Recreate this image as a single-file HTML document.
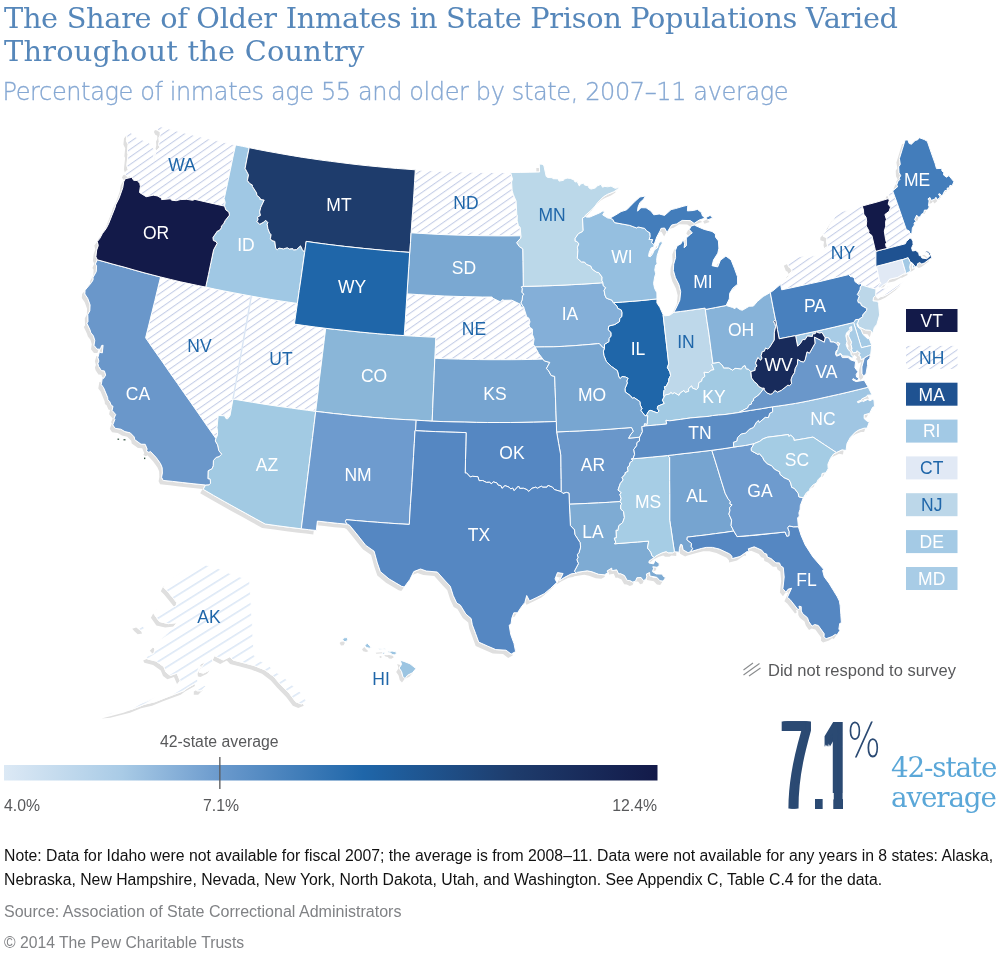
<!DOCTYPE html>
<html lang="en"><head><meta charset="utf-8"><title>The Share of Older Inmates in State Prison Populations</title>
<style>
html,body{margin:0;padding:0;background:#fff}
body{width:1000px;height:953px;position:relative;overflow:hidden;font-family:"Liberation Sans",sans-serif}
#map{position:absolute;left:0;top:0}
h1{position:absolute;left:4px;top:2.4px;margin:0;font-family:"DejaVu Serif","Liberation Serif",serif;font-weight:normal;font-size:28.8px;line-height:33px;color:#5687ba;letter-spacing:-0.32px;white-space:nowrap}
h2{position:absolute;left:2.5px;top:77px;-webkit-text-stroke:0.3px #86a8d3;margin:0;font-family:"DejaVu Sans","Liberation Sans",sans-serif;font-weight:200;font-size:24px;line-height:30px;color:#86a8d3;letter-spacing:-0.38px;white-space:nowrap}
.note{position:absolute;left:4px;top:844.2px;font-size:15.77px;line-height:23.5px;color:#111;white-space:nowrap}
.src{position:absolute;left:4px;top:902px;font-size:16.04px;color:#808285;white-space:nowrap}
.cp{position:absolute;left:4px;top:934px;font-size:15.73px;color:#808285;white-space:nowrap}
.big{position:absolute;left:0;top:0;font-size:125.8px;line-height:125.8px;color:#2b4a73;transform:scaleX(0.42);transform-origin:0 0;white-space:nowrap;text-shadow:3.1px 0 0 #2b4a73,6.2px 0 0 #2b4a73,9.4px 0 0 #2b4a73,12.5px 0 0 #2b4a73}
.big span{position:absolute;top:703px}
.pct{position:absolute;left:847px;top:716px;font-family:"DejaVu Sans","Liberation Sans",sans-serif;font-weight:200;font-size:48px;line-height:48px;color:#2b4a73;transform:scaleX(0.74);transform-origin:0 0}
.avg{position:absolute;left:891px;top:753px;font-family:"DejaVu Serif","Liberation Serif",serif;font-size:27.8px;line-height:30px;color:#5aa7d8;letter-spacing:-1.15px;white-space:nowrap}
</style></head><body>
<svg id="map" width="1000" height="953" viewBox="0 0 1000 953">
<defs>
<pattern id="hatch" width="20" height="6.14" patternUnits="userSpaceOnUse" patternTransform="rotate(-35)"><rect width="20" height="6.14" fill="#fff"/><rect y="0" width="20" height="1.05" fill="#c5cee7"/></pattern>
<pattern id="hatchAK" width="20" height="9.2" patternUnits="userSpaceOnUse" patternTransform="rotate(-32)"><rect width="20" height="9.2" fill="#fff"/><rect y="0" width="20" height="1.6" fill="#dde8f6"/></pattern>
<filter id="sh" x="-5%" y="-5%" width="110%" height="110%"><feGaussianBlur stdDeviation="0.55"/></filter>
<linearGradient id="grad" x1="0" x2="1" y1="0" y2="0"><stop offset="0" stop-color="#dce9f5"/><stop offset="0.18" stop-color="#a9cbe6"/><stop offset="0.33" stop-color="#6b9acd"/><stop offset="0.55" stop-color="#1f66a9"/><stop offset="0.78" stop-color="#1e3c6c"/><stop offset="1" stop-color="#131a49"/></linearGradient>
</defs>
<path d="M418.2,294.6 426.8,295.1 435.5,295.5 444.2,296 453.7,296.3 463.3,296.6 472.9,296.8 482.5,297 492.1,297 492.6,298.1 500.5,301.9 502.3,299.8 504.5,300.3 511.8,300.2 519.9,304 521,307 523.8,307.5 526.7,316.8 528.9,318.2 530,321.8 529.1,324.4 529.6,327.2 532.4,329 532.4,334.3 534.1,338.9 533.3,344.3 535.2,347 538.8,353.7 542.9,359.1 532.3,359.4 521.8,359.6 511.2,359.7 500.6,359.7 490,359.7 479.5,359.6 468.9,359.4 458.3,359.1 447.7,358.8 437.2,358.4 434.8,358.3 435.3,347.8 435.8,337.3 425.2,336.8 414.7,336.2 404.2,335.6 405.2,321.7 406.1,307.8 407,293.9 412.6,294.2ZM205.7,287.1 214.8,289.1 223.9,290.9 233.1,292.7 242.2,294.4 251.3,296.1 249,309 246.7,321.8 244.4,334.7 242.2,347.6 239.9,360.4 237.6,373.3 235.3,386.2 233,399 231.5,407.3 230,415.6 227.7,418.8 226,418.6 224.5,415.8 218.2,415.5 217,427.7 217.6,431.9 217.3,435.8 215.8,438.4 207.4,426.5 199.2,414.6 190,401.4 183.6,392.4 177.4,383.4 169.5,372.2 161.8,361 153.6,349.4 145.6,337.8 148.8,325 152,312.1 154.9,300.4 157.7,288.7 160.6,277 170.4,279.4 180.3,281.8 188.8,283.6 197.3,285.4ZM892.7,190.9 897.3,203.5 901.8,216.5 906.3,229.5 909.3,231 909.6,233.1 911.8,234 911.3,238.2 909.7,238.3 906.4,241.5 905.3,243.8 896.7,246 888,248.2 886.2,247 885.6,244 886.5,242.5 885.6,239.7 884.3,231 885.7,226.3 885.6,221.4 886.4,219.4 884.9,214.5 889.2,211.2 890.5,207.1 888.2,204.2 889.2,200.4 888.5,198.5 889,192.7 892.4,192.3ZM862.2,206 863.5,210.1 863.7,214.1 866.1,217.3 866.7,221.3 866.2,225.8 869,231 868.6,232.9 871.9,235.5 875.2,249.5 875.9,251.3 875.9,265.5 876.5,266.2 878.1,273.9 879.7,281.7 881.2,283 878,286.3 879.8,288.3 886.7,288.2 887.7,286.6 893.3,285 895.9,283.6 899.7,279 900.7,281.2 903.4,281.5 898.7,286.1 893.4,290 888.1,293.8 883.4,296.1 880.1,296.8 877.9,298.4 875.7,295.5 875.9,289.1 870.1,287.6 861.9,285 860.9,283.7 858.5,284.2 854.9,281.5 854.5,278.4 852,276.5 850.9,276.9 848.6,274.6 839,276.9 829.5,279.2 820,281.5 810.5,283.6 800.9,285.7 791.3,287.8 781.7,289.8 780.7,284.6 780.6,284.3 788.7,276.5 789.6,273.4 792.2,270.9 790.3,267.7 788.9,267.2 786.8,261.8 795.1,257.6 802.9,256 806.1,255.9 809.9,257.4 811.9,256 818.3,254.6 821.9,252.3 825.2,247.6 827.8,246.8 826.5,241.3 827.1,237.7 823.3,236.3 823.4,233.6 828.4,228.7 829.8,225.2 835.1,216.7 840.8,211.6 850.7,209.6 856.4,207.8ZM510.6,172.5 512.5,179 511.6,181.9 512.1,190.2 513.2,194.2 516.1,201.1 516.8,214.4 517.3,215.3 517.2,220.8 518.4,225.4 520.2,227.5 520.9,235.8 510.9,235.9 500.9,235.9 490.9,235.8 481,235.7 471,235.5 461,235.2 451,234.9 441,234.5 431.1,234 421.1,233.4 411.1,232.8 412,219.5 413,206.3 413.9,193.2 414.6,181.5 415.3,169.8 424.8,170.4 434.4,170.9 443.9,171.3 453.4,171.7 462.9,172 472.4,172.3 482,172.4 491.5,172.5 501,172.6ZM280.2,300.9 288.8,302.2 297.4,303.4 295.9,313.8 294.4,324.1 304.8,325.6 315.3,327 325.7,328.3 324.1,341.3 322.5,354.2 320.9,367.2 319.8,376 318.6,384.8 318.6,387.1 317.2,399.3 315.7,411.4 307.6,410.3 299.6,409.3 291.6,408.1 281.8,406.8 272,405.4 262.2,403.9 252.5,402.3 242.7,400.7 233,399 235.3,386.2 237.6,373.3 239.9,360.4 242.2,347.6 244.4,334.7 246.7,321.8 249,309 251.3,296.1 260.9,297.8 270.5,299.4ZM235.7,144.9 233,157.4 230.3,169.9 227.5,183.4 224.6,196.9 224.1,198.5 225.2,202.5 224.5,206.1 214.6,203.9 204.8,201.7 194.9,199.4 192.7,200.3 186.8,199.3 180.2,199.6 176.2,200.7 171.8,200.2 170.2,198.8 161.6,199.6 161.5,198.2 157.3,195.9 153.3,195.2 146.2,196.7 139.5,192.5 140.4,186.3 139.8,183.5 137.4,180.6 136,180.4 133.6,180.3 131.8,177.3 129.5,175.8 127.1,176.4 124.9,173.9 126.2,171.3 128.5,170.5 126.9,165.5 128.1,154.2 127.4,152.4 128.2,144.4 126.4,140.7 127,134.5 129.7,131 131.8,133.7 136.7,137.8 140.5,138.8 144,140.9 147.9,140.9 149.1,143.2 152.4,143.9 153.4,148.9 155.2,149.1 153.8,155 153.4,160.6 154.9,160.5 154.8,155.5 156.4,151.1 159.9,147.2 158.6,144.8 159.3,141.5 159,137.6 160.3,135.1 160.3,131.9 158.3,130.8 156.9,128 158,126 166.6,128.3 175.2,130.6 183.8,132.8 192.4,135 201,137.1 209.7,139.2 218.3,141.1 227,143.1ZM166,583 172.6,578.6 183.6,570.9 203.4,564.3 218.8,568.7 234.2,575.3 249.6,579.7 251.8,616 254,655.6 260.6,661.1 267.2,664.4 276,672.1 287,679.8 293.6,686.4 301.3,693 306.8,701.8 301.3,704 295.8,701.8 289.2,693 280.4,684.2 273.8,676.5 265,669.9 254,665.5 243,662.6 233.1,660 229.8,656.7 223.2,660 214.4,655.6 212.2,660 214.4,664.4 210,669.9 203.4,673.2 199,672.1 202.3,666.6 205.6,661.1 200.1,664.4 196.8,673.2 197.9,682 188,687.5 183.6,690.8 174.8,694.1 166,697.4 155,701.8 144,704.4 133,708.8 122,711.7 113.2,713.9 104.4,714.6 113.2,712.4 126.4,708.8 139.6,704 150.6,699.6 163.8,694.1 174.8,687.5 180.3,680.9 177,673.2 170.4,675.4 166,672.1 163.8,666.6 156.1,661.1 147.3,658.9 146.2,656.7 153.9,653.4 155,649 152.8,646.8 158.3,641.3 166,634.7 173.7,627 177,622.6 168.2,623.7 159.4,621.5 153.9,613.8 156.1,609.8 166,609.4 175.9,606.1 177,602.8 172.6,597.3 167.1,590.7 163.8,587.4ZM135.2,624.8 139.2,623.7 144,627.4 145.1,629.6 140.7,630.3 137.4,627.4ZM196.8,687.5 203.4,684.2 205.6,686.4 201.2,690.8 196.8,690.8ZM682,453.8 691.9,452.7 701.9,451.5 711.8,450.3 714.6,459 717.3,467.7 721.2,480.5 725.2,493.3 728,498.7 730.4,501.7 729.9,503.9 732.1,504.8 729.5,507.8 730,510.4 728.9,514.1 731.6,520.1 731.1,525.7 733.8,531 725,532.4 715.6,533.6 706.2,534.9 696.7,536 687.3,537.1 687,539.9 691.5,543.4 691.2,546.8 692.8,548.4 690.5,551.7 688.1,552.7 683.1,549.8 682.1,544.8 680.6,544.4 679.4,548.4 679.2,552.2 674.4,551.7 672.8,541.2 671.3,530.7 669.7,520.3 669.7,507 669.7,493.7 669.6,480.5 669.6,469 669.6,457.5 667.6,455.5 674.8,454.7ZM315.7,411.4 314.1,424.5 312.5,437.5 310.9,450.6 309.3,463.7 307.7,476.7 306.1,489.8 304.5,502.8 302.9,515.8 301.3,528.8 289.3,527.3 277.2,525.7 265.2,524 255.3,518.6 245.5,513.2 234.8,507.3 224.2,501.4 213.6,495.4 203.2,489.3 205.6,485 209.2,484.8 210.5,483.2 210.2,479.2 207.9,478.7 208.1,470.8 212.2,468.5 213.2,465.6 213.4,460.6 216.1,457.4 219.1,456.6 221.6,454.2 218.8,450.7 217.5,444.9 215.3,441 215.8,438.4 217.3,435.8 217.6,431.9 217,427.7 218.2,415.5 224.5,415.8 226,418.6 227.7,418.8 230,415.6 231.5,407.3 233,399 242.7,400.7 252.5,402.3 262.2,403.9 272,405.4 281.8,406.8 291.6,408.1 299.6,409.3 307.6,410.3ZM559,431.8 569.4,431.4 579.8,430.9 590.1,430.4 600.5,429.8 610.9,429.1 621.2,428.3 631.6,427.5 633.4,431.3 631,434.1 628.7,438.2 639.6,437.2 639.4,441.1 637,442.5 636.7,445.7 633.8,449.4 634.6,454.4 633.2,458.2 631.6,458.9 632.7,460.7 630.1,462.5 629.2,466.1 627.5,467.2 628.1,471.3 625.1,472.7 625.3,474 622,477.7 623.2,479.9 620.3,483.5 618,490.1 621.3,492.6 619.9,494.4 621.2,498.6 620,501.6 609.3,502.3 598.5,502.9 587.8,503.4 577,503.9 569.4,504.2 569,493.2 566.4,492.4 563,493.5 561.1,491.6 561,479.4 560.8,467.2 560.7,454.9 558.6,443.4 556.6,431.9ZM112,263.9 118.4,265.6 124.9,267.3 134.9,270.2 145,273 152.8,275 160.6,277 157.7,288.7 154.9,300.4 152,312.1 148.8,325 145.6,337.8 153.6,349.4 161.8,361 169.5,372.2 177.4,383.4 183.6,392.4 190,401.4 199.2,414.6 207.4,426.5 215.8,438.4 215.3,441 217.5,444.9 218.8,450.7 221.6,454.2 219.1,456.6 216.1,457.4 213.4,460.6 213.2,465.6 212.2,468.5 208.1,470.8 207.9,478.7 210.2,479.2 210.5,483.2 209.2,484.8 205.6,485 193.9,483.8 182.2,482.5 172.7,481.4 163.1,480.4 161.6,477.3 162.4,473 162.2,467.7 160.5,463.6 156.2,457.5 150.4,451.4 148.9,452.4 146.4,451 147.2,449.1 145.2,444.3 141,444.2 134.7,439.6 134.2,436.9 130.2,432.8 124.9,431.6 120.8,429.2 115.1,428.3 112.8,424.9 114.9,419.4 114.1,418.3 115.7,414.5 112.1,410.4 113,406.2 111.4,405.6 109.6,401.3 107.9,400.1 107.7,397.6 103.6,387.7 101.3,384.5 102.4,377.8 103.5,378.6 105.7,375.1 104.4,370.9 101.4,370.6 98.6,366.4 97.9,363.5 98.9,361.1 97.9,357.4 99.4,352.1 102.3,352.9 103.1,345.2 101.6,345.6 100.4,349.2 97,349.1 94,345.3 94.8,340.4 93.4,335.9 90.9,332.7 89.9,329.6 86.8,323.1 88,321.7 87.8,314.4 89.8,310.9 90.1,304.9 87.7,298.3 84.8,294 85.1,290.2 91.5,282.5 93.1,279.8 93.1,277.3 96.3,271.6 96.6,265.8 95.4,264 97.3,259.8 104.7,261.8ZM343.4,330.2 352,331.2 360.6,332.1 369.2,332.9 377.8,333.7 386.6,334.4 395.4,335 404.2,335.6 414.7,336.2 425.2,336.8 435.8,337.3 435.3,347.8 434.8,358.3 434.3,370.8 433.8,383.4 433.2,396 432.7,408.6 432.2,421.2 424.2,420.7 416.2,420.2 405.1,419.6 393.9,419 383.4,418.2 372.8,417.4 362.3,416.4 351.8,415.5 342.6,414.4 333.6,413.5 324.7,412.4 315.7,411.4 317.2,399.3 318.6,387.1 318.6,384.8 319.8,376 320.9,367.2 322.5,354.2 324.1,341.3 325.7,328.3 334.5,329.3ZM883,264.6 892.4,262.1 901.9,259.5 902,259.9 905.5,271.7 905.1,273.9 903.7,273.9 897.5,277.4 889.5,279.2 886.9,282.9 883.5,284.8 879.8,288.3 878,286.3 881.2,283 879.7,281.7 878.1,273.9 876.5,266.2ZM858.9,319.3 858.1,322.2 856.8,323.9 858,327 861,329.5 862.9,334.3 867.6,338.7 869.2,338.5 871.7,345.3 861.4,347.7 857.5,335.1 853.6,322.5 855.6,319.6ZM725,532.4 733.8,531 737.1,536.6 746.3,536 755.4,535.3 765.3,534.2 775.2,533.1 785.1,532 786.8,536.2 788.9,535.7 789,531.4 787.6,527.8 789,525.9 793.4,526.8 798.4,526.7 801.1,535.4 805.2,544.9 812.9,556.9 823.6,569.3 822.6,570.5 824.3,576.9 829.1,583.4 833.2,590.1 837.3,596.8 839.4,601.1 840.2,605.8 840.8,614.3 841.4,622.8 839.7,623.5 838.9,629 839.8,630.6 836.9,635 835.3,634.4 832,636.6 826.1,638.7 824,636.9 824.2,633.7 818.3,625.5 814.7,624.5 812,626.2 808.8,621.6 807.5,617.7 802.8,613.8 801.3,611 801.2,606.6 798.9,606.2 799.8,608.6 798,609.6 790.2,599.7 787.4,597.3 791.6,588.2 788,589.3 786,592.3 782.9,588.7 784.2,577 783.3,567.6 780.7,565.8 779.5,562.9 775.9,562.8 771,558.5 767.4,557.1 766.7,554.1 764.2,553.3 761.8,550.2 754.2,546.8 748.3,548.8 749.1,551.9 747,551.6 740,556.5 732.1,558.6 731.9,556.3 729.7,553.9 719.4,549.1 712.4,547.4 706.2,547.4 701.2,548.5 690.5,551.7 692.8,548.4 691.2,546.8 691.5,543.4 687,539.9 687.3,537.1 696.7,536 706.2,534.9 715.6,533.6ZM754.2,443.6 751.3,448.6 751.4,450.8 757.8,454.3 759.5,453.7 762.9,457.7 763.8,460 767.3,463.8 771.7,465.7 774.6,469.2 779.8,471.9 780,474.3 783.8,477.5 789,479.8 790.7,483 791.7,487.3 794.4,488.4 798.2,493.3 798.9,496.8 803.3,497.8 800.3,505.6 800.1,509.3 798.9,512.8 799.3,516.1 797.6,517.9 798.4,526.7 793.4,526.8 789,525.9 787.6,527.8 789,531.4 788.9,535.7 786.8,536.2 785.1,532 773.5,533.2 761.9,534.3 749.5,535.5 737.1,536.6 733.8,531 731.1,525.7 731.6,520.1 728.9,514.1 730,510.4 729.5,507.8 732.1,504.8 729.9,503.9 730.4,501.7 728,498.7 725.2,493.3 721.2,480.5 717.3,467.7 714.6,459 711.8,450.3 722.8,448.8 733.7,447.1 739.7,446.2 745.6,445.4ZM249.2,147.7 247.1,158 245.1,168.4 248.5,174.9 247.4,180.5 249.7,183.5 252.3,184.9 252.4,186.4 256.6,192.9 256.8,195.2 260.2,198 260.1,199.4 264.2,200.1 260.8,207.3 259.6,212 260.5,215.4 257.5,217.2 258.1,219.5 257,221.6 259.7,224.3 263.8,222.1 265.6,220.2 267.9,222.6 267.2,224.2 267.9,228.4 269.6,233 271.1,234.7 270.4,238.7 271.8,240.6 274.8,241.4 275.7,248.3 277.2,249.7 279,248.1 283.6,248.9 287.3,247.7 289.2,249 292.8,248.6 293.4,249.9 296.5,249.6 300.5,245.8 302.4,249.7 304.7,252.3 302.9,265 301.1,277.8 299.2,290.6 297.4,303.4 288.8,302.2 280.2,300.9 270.5,299.4 260.9,297.8 251.3,296.1 242.2,294.4 233.1,292.7 223.9,290.9 214.8,289.1 205.7,287.1 208.4,274.7 211,262.2 213.6,249.8 217,243.5 216.1,241.6 213.4,240.6 212.9,237.6 217.4,231 219.1,230.6 221.3,227.9 221.4,226 223.6,223.9 225.2,220.5 229.5,215.1 228.8,212.1 225.8,209.9 224.5,206.1 225.2,202.5 224.1,198.5 224.6,196.9 227.5,183.4 230.3,169.9 232.9,157.4 235.6,144.9 242.4,146.3ZM613.3,302.7 622.8,302 632.3,301.3 641.8,300.5 649.4,299.7 657,298.9 656.9,302.9 659.8,307.3 663.1,314.6 664.5,326.9 665.9,339.2 667.3,351.4 668.7,363.7 667.4,367.7 669.9,371.9 670.6,375.5 668.9,378.7 668.7,381.5 666.2,386.3 664.4,386.8 665.1,389.4 664,390.5 663.5,395.6 664.2,396.9 662.4,400.1 664.3,403.5 657.7,406.2 657.3,408.4 659.1,411 657.2,412.9 650.8,410.4 648.9,410.8 646.7,414.7 647.7,415.7 645,415.8 640.7,410.2 642,408.7 640.2,404.8 639.9,401.6 634.2,397.7 632.4,398.3 630.4,395.7 625.2,391.9 625,388.6 627.3,382.9 626.7,381 628.1,378.4 625.7,377.1 622,376.5 620.3,378.6 619,377.4 617.4,370.7 611.6,366.6 606.3,361.6 603.8,355.3 603.4,351.1 604.5,348.1 604.5,344.3 608.8,341.7 609,338.4 610.9,336.2 610.9,332.5 608.1,329.8 608.8,326 614.8,324.5 619.5,321.5 619.7,318.3 621.7,316.7 621.9,312.7 621.3,310.1 617.6,308.3 617,306.2ZM686.8,310.7 696,309.4 705.1,308.1 705.3,309.5 707.1,321.9 709,334.2 710.9,348.7 712.9,363.2 711.8,364.3 713.9,369.7 711.1,370.3 708.4,372.6 704.1,372.3 704.9,376.4 702.3,378.4 701.6,381.2 698.9,382.6 698.1,388 696.4,389.6 692.5,388.2 691.5,385.9 688.3,389 688.8,391.2 685.3,392.5 683.9,390.5 680.1,393.1 679,395.4 674.5,392.8 672.4,393.8 670.8,392.4 669.6,394.1 665.5,394.8 664.2,396.9 663.5,395.6 664,390.5 665.1,389.4 664.4,386.8 666.2,386.3 668.7,381.5 668.9,378.7 670.6,375.5 669.9,371.9 667.4,367.7 668.7,363.7 667.3,351.4 665.9,339.2 664.5,326.9 663.1,314.6 664.8,315.8 669.6,315.3 673.9,312.3 680.3,311.5ZM600.6,282.9 602.9,282.7 603.3,285.8 605.7,287.7 604.1,290.3 604.9,295 606.4,298.2 612,300.2 613.3,302.7 617,306.2 617.6,308.3 621.3,310.1 621.9,312.7 621.7,316.7 619.7,318.3 619.5,321.5 614.8,324.5 608.8,326 608.1,329.8 610.9,332.5 610.9,336.2 609,338.4 608.8,341.7 604.5,344.3 604.5,348.1 602.8,347.5 599.2,343.5 597.6,343.7 590.1,344.4 582.6,345 575.1,345.6 564.2,346.3 553.2,346.8 544.2,346.9 535.2,347 533.3,344.3 534.1,338.9 532.4,334.3 532.4,329 529.6,327.2 529.1,324.4 530,321.8 528.9,318.2 526.7,316.8 523.8,307.5 520.8,303 522.1,299.9 522.6,295.7 523.7,294.2 521.8,292.2 522.2,288.5 521.3,286.8 523.3,286.4 533,286.2 542.7,285.9 552.3,285.6 562,285.2 571.7,284.7 581.3,284.2 591,283.6ZM437.2,358.4 447.7,358.8 458.3,359.1 468.9,359.4 479.5,359.6 490,359.7 500.6,359.7 511.2,359.7 521.8,359.6 532.3,359.4 542.9,359.1 544.5,361 549.8,362.4 546.4,368.6 548.5,370.6 551.2,375.5 554.7,376.4 555.1,387.7 555.5,398.9 555.9,410.2 556.3,421.5 544.8,421.9 533.4,422.2 522,422.4 510.6,422.5 499.1,422.5 487.7,422.5 476.3,422.4 464.9,422.1 454,421.9 443.1,421.6 432.2,421.2 432.7,408.6 433.2,396 433.8,383.4 434.3,370.8 434.8,358.3ZM728.7,367.9 732.7,370.2 735,368.3 741.4,368.9 742.8,366.6 745,365.5 746.3,368.9 748.2,369.1 750.9,371.6 751.5,377.9 754.2,381.5 757.3,384.1 758.5,386.3 762,388.2 764.2,388.1 758.9,394.8 753.4,398.8 753.7,400.4 751.5,402.2 751.6,404 748.6,405.3 747.8,407.8 739.4,412.2 739.2,412.5 732.1,413.5 725,414.5 718.7,415 712.5,415.6 709.3,416.3 700,417.1 690.7,417.9 680.3,419.4 669.8,420.8 666,420.3 666.7,424 656.3,425 645.9,425.9 643.9,426.3 644.6,423.6 647.1,424.3 647.7,415.7 646.7,414.7 648.9,410.8 650.8,410.4 657.2,412.9 659.1,411 657.3,408.4 657.7,406.2 664.3,403.5 662.4,400.1 664.2,396.9 665.5,394.8 669.6,394.1 670.8,392.4 672.4,393.8 674.5,392.8 679,395.4 680.1,393.1 683.9,390.5 685.3,392.5 688.8,391.2 688.3,389 691.5,385.9 692.5,388.2 696.4,389.6 698.1,388 698.9,382.6 701.6,381.2 702.3,378.4 704.9,376.4 704.1,372.3 708.4,372.6 711.1,370.3 713.9,369.7 711.8,364.3 712.9,363.2 719.1,362.3 723,366.1 723.5,367.9ZM577,503.9 587.8,503.4 598.5,502.9 609.3,502.3 620,501.6 621.8,503.9 620.7,504.9 620.8,509.1 623.6,511.5 624.4,517.6 622.7,522.5 618.7,525.8 618,530.5 616.2,530.2 616.4,537.8 614.3,538.2 615.8,542.2 614.6,543.8 626,542.9 637.3,542 648.7,541.1 647.5,548 650.9,552.3 651.9,555.6 654.3,557.5 649.2,560.9 648.9,562.9 653.5,563.9 655.1,560.4 659.2,563.4 659.1,566 657,567.3 652.8,566.7 653.5,568.6 652.4,571.6 656.1,573.9 661.8,574.1 664.1,577 665.8,577.3 663.2,581.1 659.9,580.7 656.8,577.3 649.9,576 649.6,572.5 646.4,574 646.8,576.9 645.6,579.7 643.2,580.4 641.1,577.5 636.9,577.7 635.6,581 632.8,582.1 629.7,580.5 627.2,580.4 624.5,575.5 620.2,573.5 618.7,574 616.7,569.8 612,570.7 611.7,568.1 607.1,570.9 607.9,572.8 604.4,574.8 598.7,574.3 592,571.8 587.3,570.8 577.4,572.3 576.1,573.2 574.4,571.2 578.4,563.6 576.8,559.7 578,557.5 577.3,554.7 579,552.5 580.6,547 580.1,542.6 574.8,534.4 574.5,529.9 570.4,525.5 569.9,514.9 569.4,504.2ZM911.8,234 909.6,233.1 909.3,231 906.3,229.5 901.8,216.5 897.3,203.5 892.7,190.9 898,186.3 896.6,185.2 898,181.4 899.9,179.3 899.1,178.2 900.7,175.7 899,172.4 898.7,166.8 900.3,164.4 899.4,158.6 902.3,149.3 905.1,140.1 907.8,139.9 909.2,143.5 911.4,144.2 915.1,140.6 917.8,139.7 919.3,137.7 924.2,139.5 927.3,141.3 931.1,152.3 935,163.3 936.5,168.6 941.8,168.4 941.9,170.9 943.8,172.6 943.5,174.9 946.5,177.2 948.9,175.6 953.9,181.7 952.1,185.9 950,185.3 949.3,187.9 947.1,188.1 947.5,190 944.8,190.7 942,196.3 940,193.8 938.5,194.1 940.3,197 937.5,199.6 935.9,197.3 934.7,199.2 931.1,200.4 930,197.5 928,198.9 929.1,200.8 928.5,205.8 929.3,206.9 927.4,210.1 924.4,210.1 923.7,213.1 921.5,214.2 920.4,216.8 918,217.1 916.7,215.1 914.6,219.6 916.1,221.5 914,223 914.4,224.9 912.4,228.1ZM795.6,335.6 805.3,333.5 815,331.5 824.7,329.3 834.3,327.1 843.9,324.8 853.6,322.5 857.5,335.1 861.4,347.7 871.7,345.3 870.7,354.7 868.4,355.6 864.3,358 861.1,359.7 860.4,356.3 858.7,355.3 860.2,353.4 856.9,350.7 856.5,352.3 853.1,352.8 851.1,349.4 852.1,349.1 851,344.3 851.6,342.2 848.7,336.1 849.5,331.8 852,330.5 851.5,326.5 849.6,327.5 850,329.5 846.5,333 845.8,335.7 847,341.6 846.1,344.8 847.9,349.3 850.8,352.1 851.1,354.6 853,356.7 852.7,358.6 848.3,356.2 842.7,355.9 840.3,353.1 837.8,355.6 836.1,353.4 837.7,349.7 838.4,346.2 839.9,343.6 837.5,342 836.5,343.5 833.9,342.1 830.4,341.9 829.7,338.9 827.6,337.6 825.1,337.8 822,332.5 819.4,333.1 816.3,331.8 815.2,333.7 812.5,334.1 812.4,336.5 807.4,336 805,339.7 802.8,339.5 800.4,343.6 797.6,346.2ZM909.7,238.3 911.3,238.2 912.9,241.5 913.1,244.6 911.6,247.9 912.5,251 915.8,250.4 918.8,253 919.2,255.6 921,255.8 921.9,258 926.7,258.7 929.8,256.1 928.2,253.1 925.6,252.2 925.5,251.1 927.7,251.1 930.2,253.6 931.8,257.9 930.7,258.4 924.4,263 921.8,264 919.6,262.6 917.3,263.9 917.7,265.3 915.2,267 912.9,263.8 912.3,263.2 910.3,262.3 908.1,257.8 905.9,258.5 902,259.9 901.9,259.5 892.4,262.1 883,264.6 876.5,266.2 875.9,265.5 875.9,251.3 881.9,249.7 888,248.2 896.7,246 905.3,243.8 906.4,241.5ZM586.5,217.1 585.3,216.3 582.5,218.2 583.2,230.4 582.4,231.7 578.4,233.7 575.2,238.3 575.2,241.2 576.9,241.4 578.9,243.9 577.4,247.2 577.9,250.7 577.3,258.3 581.4,261.9 584.5,262 586.2,264.2 591,266.2 591.9,268.9 596.4,272.1 598.9,272.7 602.1,277.1 601.9,280.4 602.9,282.7 600.6,282.9 591,283.6 581.3,284.2 571.7,284.7 562,285.2 552.3,285.6 542.7,285.9 533,286.2 523.3,286.4 523.1,273.9 522.9,261.4 522.7,248.9 519.3,246.6 516.6,242.7 520.6,238.2 520.9,235.8 520.2,227.5 518.4,225.4 517.2,220.8 517.3,215.3 516.8,214.4 516.1,201.1 513.2,194.2 512.1,190.2 511.6,181.9 512.5,179 510.6,172.5 520.2,172.4 529.9,172.2 539.6,172 539.3,164.1 542.1,164.2 543.9,165.7 546.2,176.4 547.7,177.5 552.3,177.7 552.9,178.7 558.3,178.9 559,181.1 563.6,180.3 563.5,179.4 567.1,178.1 570.3,178.4 574,179.9 575.1,182 577.2,181.6 579.4,186.1 580.2,184.2 583.7,183 584.4,184.9 588.7,186 588.8,187.8 591,189.1 595.2,188 597.6,185.8 601,184.3 602.5,187.2 604.8,186.4 607.7,186.8 611,186.1 615.1,188.3 618.7,187.6 618.4,188.7 613.9,191.7 607.5,194.3 603.4,196.8 597.6,202.6 595.2,206 591.4,210.1 585.2,215.5ZM663,456 667.6,455.5 669.6,457.5 669.6,469 669.6,480.5 669.7,493.7 669.7,507 669.7,520.3 671.3,530.7 672.8,541.2 674.4,551.7 672.5,552.8 668.1,552.8 666.2,551.6 661.9,552.9 656,555.9 654.3,557.5 651.9,555.6 650.9,552.3 647.5,548 648.7,541.1 637.3,542 626,542.9 614.6,543.8 615.8,542.2 614.3,538.2 616.4,537.8 616.2,530.2 618,530.5 618.7,525.8 622.7,522.5 624.4,517.6 623.6,511.5 620.8,509.1 620.7,504.9 621.8,503.9 620,501.6 621.2,498.6 619.9,494.4 621.3,492.6 618,490.1 620.3,483.5 623.2,479.9 622,477.7 625.3,474 625.1,472.7 628.1,471.3 627.5,467.2 629.2,466.1 630.1,462.5 632.7,460.7 631.6,458.9 642,458 652.5,457ZM597.6,343.7 599.2,343.5 602.8,347.5 604.5,348.1 603.4,351.1 603.8,355.3 606.3,361.6 611.6,366.6 617.4,370.7 619,377.4 620.3,378.6 622,376.5 625.7,377.1 628.1,378.4 626.7,381 627.3,382.9 625,388.6 625.2,391.9 630.4,395.7 632.4,398.3 634.2,397.7 639.9,401.6 640.2,404.8 642,408.7 640.7,410.2 645,415.8 647.7,415.7 647.1,424.3 644.6,423.6 643.9,426.3 642.8,426.5 641.9,426.5 642.4,431.7 639.6,437.2 628.7,438.2 631,434.1 633.4,431.3 631.6,427.5 621.2,428.3 610.9,429.1 600.5,429.8 590.1,430.4 579.8,430.9 569.4,431.4 559,431.8 556.6,431.9 556.3,421.5 555.9,410.2 555.5,398.9 555.1,387.7 554.7,376.4 551.2,375.5 548.5,370.6 546.4,368.6 549.8,362.4 544.5,361 542.9,359.1 538.8,353.7 535.2,347 544.2,346.9 553.2,346.8 564.2,346.3 575.1,345.6 582.6,345 590.1,344.4ZM415.3,169.8 414.6,181.5 413.9,193.2 413,206.3 412,219.5 411.1,232.8 410.5,242.6 409.9,252.4 409.7,252.4 400.5,251.7 391.3,251 382.1,250.2 372.8,249.3 363.4,248.4 354,247.4 344.6,246.4 335.3,245.3 325.6,244.1 315.9,242.8 306.2,241.4 304.7,252.3 302.4,249.7 300.5,245.8 296.5,249.6 293.4,249.9 292.8,248.6 289.2,249 287.3,247.7 283.6,248.9 279,248.1 277.2,249.7 275.7,248.3 274.8,241.4 271.8,240.6 270.4,238.7 271.1,234.7 269.6,233 267.9,228.4 267.2,224.2 267.9,222.6 265.6,220.2 263.8,222.1 259.7,224.3 257,221.6 258.1,219.5 257.5,217.2 260.5,215.4 259.6,212 260.8,207.3 264.2,200.1 260.1,199.4 260.2,198 256.8,195.2 256.6,192.9 252.4,186.4 252.3,184.9 249.7,183.5 247.4,180.5 248.5,174.9 245.1,168.4 247.1,158 249.2,147.7 258.1,149.5 267,151.2 275.9,152.8 284.9,154.4 293.8,155.9 302.8,157.4 311.8,158.7 321.2,160.1 330.7,161.3 340.1,162.5 349.5,163.7 358.9,164.8 368.3,165.8 377.7,166.7 387.1,167.6 396.5,168.4 405.9,169.1ZM870.1,287.6 875.9,289.1 875.7,295.5 873.5,297.5 873,300.9 877.6,301.3 878.6,303.6 879.6,314.9 876.9,324.3 874.3,327.5 872.8,333.3 870.5,330.4 865.5,329.9 858.8,326.8 857.7,323.9 857.5,323.5 858.1,322.2 858.9,319.3 862.7,316.6 862.6,315 866.5,310.5 866.8,308.5 861.3,305.5 860.5,303 858.4,302.8 857.6,300.5 859.1,296.4 857.3,294.6 860,289.4 860.3,287 861.9,285ZM342.6,414.4 351.8,415.5 362.3,416.4 372.8,417.4 383.4,418.2 393.9,419 405.1,419.6 416.2,420.2 415.6,430.7 415,430.6 414.3,443.6 413.5,456.6 412.8,469.5 412,482.5 411.3,493 410.5,503.6 409.9,514 409.3,524.4 398.8,523.8 388.2,523.1 377.7,522.3 367.2,521.5 356.7,520.6 346.2,519.7 345.5,521.7 347.3,524.2 337.3,523.3 327.3,522.2 317.4,521.1 316.3,530.5 308.8,529.7 301.3,528.8 302.9,515.8 304.5,502.8 306.1,489.8 307.7,476.7 309.3,463.7 310.9,450.6 312.5,437.5 314.1,424.5 315.7,411.4 324.7,412.4 333.6,413.5ZM784.2,405.2 795.5,403.4 802,402.2 808.5,400.9 818.5,398.8 828.4,396.6 838.4,394.4 848.3,392.1 858.2,389.7 868.2,387.2 872,394.9 867.3,395.2 866.9,396.4 861.6,399 861.1,400.3 857.4,401.5 858,402.9 862.2,400.8 863.1,401.6 867.8,399.4 869.9,400.8 872.7,399.3 874,400.1 874.5,406.5 872.6,407.3 869.7,413.3 864.2,414.8 864.1,418.5 867.3,421.4 869.4,421.6 867.1,428.1 864,428.2 858.8,430 855.4,432.1 850.4,437.3 847,443.5 846,450.5 842.1,449.8 836.3,452.5 824.6,444.8 813,437.1 803.5,438.8 794,440.4 793.8,438 790.5,435 789,436.6 788.5,434.5 778.1,435.9 767.6,437.2 763.1,438.8 759.8,441.3 754.2,443.6 745.6,445.4 739.7,446.2 733.7,447.1 733.4,442.2 736.7,441.2 737.5,437.6 741.2,433.9 745.7,433.1 749.4,429.2 753.5,427.4 756.4,422.2 758.5,420.4 759.3,422.4 765.2,417.3 768.3,417.6 769.7,413.3 772.6,411.8 772.5,406.8 778.3,406ZM770.3,292.5 772.9,306.3 775.6,320 773.5,321.6 775,323.6 775.6,326.8 774.4,332.2 774.3,340 769.4,347.8 767.6,349.1 765.6,348 764.3,351.3 762.4,351.5 761.1,355.8 762,358.1 760.7,360.3 757.8,357.6 755.6,363.1 757,366.1 755.2,367.6 755.1,370.4 750.9,371.6 748.2,369.1 746.3,368.9 745,365.5 742.8,366.6 741.4,368.9 735,368.3 732.7,370.2 728.7,367.9 723.5,367.9 723,366.1 719.1,362.3 712.9,363.2 710.9,348.7 709,334.2 707.1,321.9 705.3,309.5 715.7,307.5 726.1,305.5 732.5,307.4 734.9,308.7 736.1,306.9 740,309.6 742.3,310.3 749.1,306.3 753.4,306.1 757.3,301.5 763.2,296.5ZM464.9,422.1 476.3,422.4 487.7,422.5 499.1,422.5 510.6,422.5 522,422.4 533.4,422.2 544.8,421.9 556.3,421.5 556.6,431.9 558.6,443.4 560.7,454.9 560.8,467.2 561,479.4 561.1,491.6 554.4,489.6 552.6,487.3 548,485.4 546.9,487.2 542.4,487.2 541.5,486.1 537.4,488.3 535.7,487.2 532,488.3 528.6,491.5 527.2,489.7 523.6,488.3 519.7,488.4 518.5,486 514.1,490.7 512.7,488.1 510.7,488.9 509.1,487.2 505,485.6 502,488.4 500.7,485.5 498.2,485.2 496.8,482.9 493.4,481.9 491.2,483.9 489.8,482.2 486.4,482.4 482.6,480.5 479.1,480.7 477.9,476.7 472.4,476.3 470.3,477 466.5,472.9 465.2,473.1 465.5,459.6 465.8,446.1 466.1,432.6 455.9,432.3 445.8,432 435.6,431.6 425.6,431.2 415.6,430.7 416.2,420.2 424.2,420.7 432.2,421.2 443.1,421.6 454,421.9ZM136,180.4 137.4,180.6 139.8,183.5 140.4,186.3 139.5,192.5 146.2,196.7 153.3,195.2 157.3,195.9 161.5,198.2 161.6,199.6 170.2,198.8 171.8,200.2 176.2,200.7 180.2,199.6 186.8,199.3 192.7,200.3 194.9,199.4 204.8,201.7 214.6,203.9 224.5,206.1 225.8,209.9 228.8,212.1 229.5,215.1 225.2,220.5 223.6,223.9 221.4,226 221.3,227.9 219.1,230.6 217.4,231 212.9,237.6 213.4,240.6 216.1,241.6 217,243.5 213.6,249.8 211,262.2 208.4,274.7 205.7,287.1 197.3,285.4 188.8,283.6 180.3,281.8 170.4,279.4 160.6,277 152.8,275 145,273 134.9,270.2 124.9,267.3 118.4,265.6 112,263.9 104.7,261.8 97.3,259.8 95.9,256.8 96.7,250 98.3,245.6 97.3,241.5 99.7,238.6 102.4,233.6 106.2,228.5 108.6,223.8 111.9,215.5 115.2,207.2 115.7,204.9 119.2,197.9 122.8,187.7 123.7,181.8 125.3,178.7 131.8,177.3 133.6,180.3ZM780.7,284.6 781.7,289.8 791.3,287.8 800.9,285.7 810.5,283.6 820,281.5 829.5,279.2 839,276.9 848.6,274.6 850.9,276.9 852,276.5 854.5,278.4 854.9,281.5 858.5,284.2 860.9,283.7 861.9,285 860.3,287 860,289.4 857.3,294.6 859.1,296.4 857.6,300.5 858.4,302.8 860.5,303 861.3,305.5 866.8,308.5 866.5,310.5 862.6,315 862.7,316.6 858.9,319.3 855.6,319.6 853.6,322.5 843.9,324.8 834.3,327.1 824.7,329.3 815,331.5 805.3,333.5 795.6,335.6 787.4,337.2 779.2,338.8 777.4,329.4 775.6,320 772.9,306.3 770.3,292.5 772.9,290.8 780.6,284.3ZM912.9,263.8 915.2,267 912.3,268.4ZM905.9,258.5 908.1,257.8 910.3,262.3 912.3,263.2 910.4,263.5 909.7,266.9 910.5,271.2 905.1,273.9 905.5,271.7 902,259.9ZM759.8,441.3 763.1,438.8 767.6,437.2 778.1,435.9 788.5,434.5 789,436.6 790.5,435 793.8,438 794,440.4 803.5,438.8 813,437.1 824.6,444.8 836.3,452.5 833.5,454.1 830.5,458.3 827.9,464.3 828.2,468.7 825.9,472.7 822,473.5 821.7,476.1 818.2,479.6 816.5,483 813.1,484.9 809.8,488.8 809.7,490.3 806.4,492.7 803.3,497.8 798.9,496.8 798.2,493.3 794.4,488.4 791.7,487.3 790.7,483 789,479.8 783.8,477.5 780,474.3 779.8,471.9 774.6,469.2 771.7,465.7 767.3,463.8 763.8,460 762.9,457.7 759.5,453.7 757.8,454.3 751.4,450.8 751.3,448.6 754.2,443.6ZM411.1,232.8 421.1,233.4 431.1,234 441,234.5 451,234.9 461,235.2 471,235.5 481,235.7 490.9,235.8 500.9,235.9 510.9,235.9 520.9,235.8 520.6,238.2 516.6,242.7 519.3,246.6 522.7,248.9 522.9,261.4 523.1,273.9 523.3,286.4 521.3,286.8 522.2,288.5 521.8,292.2 523.7,294.2 522.6,295.7 522.1,299.9 520.8,303 523.8,307.5 521,307 519.9,304 511.8,300.2 504.5,300.3 502.3,299.8 500.5,301.9 492.6,298.1 492.1,297 482.5,297 472.9,296.8 463.3,296.6 453.7,296.3 444.2,296 435.5,295.5 426.8,295.1 418.2,294.6 412.6,294.2 407,293.9 407.9,280 408.8,266.2 409.7,252.4 409.9,252.4 410.5,242.6ZM666.7,424 666,420.3 669.8,420.8 680.3,419.4 690.7,417.9 700,417.1 709.3,416.3 712.5,415.6 718.7,415 725,414.5 732.1,413.5 739.2,412.5 739.4,412.2 750.5,410.4 761.5,408.7 772.5,406.8 772.6,411.8 769.7,413.3 768.3,417.6 765.2,417.3 759.3,422.4 758.5,420.4 756.4,422.2 753.5,427.4 749.4,429.2 745.7,433.1 741.2,433.9 737.5,437.6 736.7,441.2 733.4,442.2 733.7,447.1 722.8,448.8 711.8,450.3 701.9,451.5 691.9,452.7 682,453.8 674.8,454.7 667.6,455.5 663,456 652.5,457 642,458 631.6,458.9 633.2,458.2 634.6,454.4 633.8,449.4 636.7,445.7 637,442.5 639.4,441.1 639.6,437.2 642.4,431.7 641.9,426.5 642.8,426.5 643.9,426.3 645.9,425.9 656.3,425ZM435.6,431.6 445.8,432 455.9,432.3 466.1,432.6 465.8,446.1 465.5,459.6 465.2,473.1 466.5,472.9 470.3,477 472.4,476.3 477.9,476.7 479.1,480.7 482.6,480.5 486.4,482.4 489.8,482.2 491.2,483.9 493.4,481.9 496.8,482.9 498.2,485.2 500.7,485.5 502,488.4 505,485.6 509.1,487.2 510.7,488.9 512.7,488.1 514.1,490.7 518.5,486 519.7,488.4 523.6,488.3 527.2,489.7 528.6,491.5 532,488.3 535.7,487.2 537.4,488.3 541.5,486.1 542.4,487.2 546.9,487.2 548,485.4 552.6,487.3 554.4,489.6 561.1,491.6 563,493.5 566.4,492.4 569,493.2 569.4,504.2 569.9,514.9 570.4,525.5 574.5,529.9 574.8,534.4 580.1,542.6 580.6,547 579,552.5 577.3,554.7 578,557.5 576.8,559.7 578.4,563.6 574.4,571.2 576.1,573.2 571.4,573.8 564.1,577.6 559.6,580.6 563.1,573.5 557.5,572.6 555,578.9 556.9,582.4 550.6,588.4 544.3,593.7 536.9,597.4 529.5,600.9 526.7,595.5 524.9,602.4 521.2,607.2 517.5,612.8 513.8,612.8 511.9,618 511,624.1 509.2,625.2 510.7,634.4 514,643.6 515.6,651.6 511.2,654.1 506,650.2 495.8,649.6 487.2,645.9 478.7,642.1 475.5,633.3 472.3,624.8 471.2,618.6 465.8,614 460.4,605.2 456.7,603 453.2,595.5 450.3,586.3 445.3,581 437.3,572 426.3,571 420.5,569 413.8,571.6 409.9,579.5 404.3,587 401.6,586.3 395.3,582.6 389,578.9 380.3,571.6 377.3,562.9 374.1,551.2 365.8,545.4 356,533.1 349.5,525.2 347.3,524.2 345.5,521.7 346.2,519.7 356.7,520.6 367.2,521.5 377.7,522.3 388.2,523.1 398.8,523.8 409.3,524.4 409.9,514 410.5,503.6 411.3,493 412,482.5 412.8,469.5 413.5,456.6 414.3,443.6 415,430.6 415.6,430.7 425.6,431.2ZM888.5,198.5 889.2,200.4 888.2,204.2 890.5,207.1 889.2,211.2 884.9,214.5 886.4,219.4 885.6,221.4 885.7,226.3 884.3,231 885.6,239.7 886.5,242.5 885.6,244 886.2,247 888,248.2 881.9,249.7 875.9,251.3 875.2,249.5 871.9,235.5 868.6,232.9 869,231 866.2,225.8 866.7,221.3 866.1,217.3 863.7,214.1 863.5,210.1 862.2,206 869.6,204 877,202 882.8,200.3ZM868.4,355.6 870.7,354.7 869.5,358.7 867.6,360.4 867.5,365.4 866,373.8 863.6,376.1 862,373.5 861.9,366.9 864.3,358ZM739.4,412.2 747.8,407.8 748.6,405.3 751.6,404 751.5,402.2 753.7,400.4 753.4,398.8 758.9,394.8 764.2,388.1 764.3,389.9 767.1,393 770.2,394.2 772.3,393.7 774.9,390.4 777.5,392.1 781.5,390.2 788.2,384.9 789.1,386 791.6,383.6 790.9,379.9 792.1,376.3 794.5,372.6 795,368.7 797.4,364.2 797.7,359.3 801,361.5 803.8,361.9 805.1,359.8 807,351.8 809.4,353.2 815,343.3 814.5,337.1 824.3,342.1 825.1,337.8 827.6,337.6 829.7,338.9 830.4,341.9 833.9,342.1 836.5,343.5 838.4,346.2 837.7,349.7 836,351.1 835.5,354.3 836.6,356.2 840.8,354.5 842.3,357.6 848.2,357.6 850.4,359.8 855.6,361.5 854.9,367.7 857.9,371.7 856.2,374.4 856.5,377 858.9,378 857.3,381 853.1,378.6 852.6,379.9 856.1,381.6 864.2,380.2 868.2,387.2 858.2,389.7 848.3,392.1 838.4,394.4 828.4,396.6 818.5,398.8 808.5,400.9 802,402.2 795.5,403.4 784.2,405.2 778.3,406 772.5,406.8 761.5,408.7 750.5,410.4ZM775.6,320 777.4,329.4 779.2,338.8 787.4,337.2 795.6,335.6 797.6,346.2 800.4,343.6 802.8,339.5 805,339.7 807.4,336 812.4,336.5 812.5,334.1 815.2,333.7 816.3,331.8 819.4,333.1 822,332.5 825.1,337.8 824.3,342.1 814.5,337.1 815,343.3 809.4,353.2 807,351.8 805.1,359.8 803.8,361.9 801,361.5 797.7,359.3 797.4,364.2 795,368.7 794.5,372.6 792.1,376.3 790.9,379.9 791.6,383.6 789.1,386 788.2,384.9 781.5,390.2 777.5,392.1 774.9,390.4 772.3,393.7 770.2,394.2 767.1,393 764.3,389.9 764.2,388.1 762,388.2 758.5,386.3 757.3,384.1 754.2,381.5 751.5,377.9 750.9,371.6 755.1,370.4 755.2,367.6 757,366.1 755.6,363.1 757.8,357.6 760.7,360.3 762,358.1 761.1,355.8 762.4,351.5 764.3,351.3 765.6,348 767.6,349.1 769.4,347.8 774.3,340 774.4,332.2 775.6,326.8 775,323.6 773.5,321.6ZM609.8,218.2 612.6,219.2 614.5,222.6 622.2,224 629.8,225.4 636.4,227.9 638.2,227 644.7,228.4 646.6,230.8 649.9,232.9 650.2,236.6 649.1,239.5 652.7,239.6 651.6,242.7 654.1,244.6 653.8,247.1 651.1,247.9 649.1,252.9 648.6,256.3 650.4,256.7 652.4,254.3 654.4,249.9 657.3,248 659.1,242.5 662,241 662.1,243.8 660.3,246.5 657.2,255.6 656.6,260.5 657.1,263.9 655.6,265.2 654.8,270 655.7,273.9 654.7,276.7 653.6,283.4 654.6,288.4 656.9,292.8 657,298.9 649.4,299.7 641.8,300.5 632.3,301.3 622.8,302 613.3,302.7 612,300.2 606.4,298.2 604.9,295 604.1,290.3 605.7,287.7 603.3,285.8 602.9,282.7 601.9,280.4 602.1,277.1 598.9,272.7 596.4,272.1 591.9,268.9 591,266.2 586.2,264.2 584.5,262 581.4,261.9 577.3,258.3 577.9,250.7 577.4,247.2 578.9,243.9 576.9,241.4 575.2,241.2 575.2,238.3 578.4,233.7 582.4,231.7 583.2,230.4 582.5,218.2 585.3,216.3 586.5,217.1 589.7,217.1 599.5,212.9 603.1,210.7 604.4,212.1 602.7,214.9 607.7,218ZM335.3,245.3 344.6,246.4 354,247.4 363.4,248.4 372.8,249.3 382.1,250.2 391.3,251 400.5,251.7 409.7,252.4 408.8,266.2 407.9,280 407,293.9 406.1,307.8 405.2,321.7 404.2,335.6 395.4,335 386.6,334.4 377.8,333.7 369.2,332.9 360.6,332.1 352,331.2 343.4,330.2 334.5,329.3 325.7,328.3 315.3,327 304.8,325.6 294.4,324.1 295.9,313.8 297.4,303.4 299.2,290.6 301.1,277.8 302.9,265 304.7,252.3 306.2,241.4 315.9,242.8 325.6,244.1ZM609.8,218.2 615.6,215 621.1,211.6 626.7,209.8 630,206.4 634.6,201.7 639.9,197 645.5,196 643.7,199.1 639.8,202.7 638.1,207 637.5,211.2 641,207.7 646.1,207.8 650.9,211 653.8,214.8 659.2,214 664.6,215.4 671.1,209.6 675.4,208.6 683.1,206.3 687.8,205.2 687.4,210.9 693.2,210.5 697.5,209.4 701.4,212.6 702.5,216 705.2,218.1 699.1,220.1 694.1,223.4 690.3,220.6 682.1,220.4 676.7,223.9 671.7,225 668.6,229.8 667.1,232.5 664.6,228 661,228.4 660.1,230.8 656.8,236.9 654.1,244.6 651.6,242.7 652.7,239.6 649.1,239.5 650.2,236.6 649.9,232.9 646.6,230.8 644.7,228.4 638.2,227 636.4,227.9 629.8,225.4 622.2,224 614.5,222.6 612.6,219.2ZM673.9,312.3 676.7,306.9 679.8,300.2 680.7,291.7 678.9,284.5 675.4,277.6 673.4,270.5 673.7,264.2 675.6,257.6 675.3,250.7 677.1,245.9 681.1,243.7 683.2,239.2 684.6,243.8 684.1,247.7 686.4,245.7 686.3,237.9 690.3,234.4 692.3,232.9 689.3,229.5 691.1,226.1 694.2,225 698.7,227.1 704.2,229.4 712,231.4 715.4,234 715.5,237.1 718.4,240.9 718.9,248.2 717.8,253.2 713.5,260 712.1,265.7 717.7,266.9 720.4,260.2 725.9,256.1 731.1,259.9 734.6,268.8 737.5,276.8 737.6,284.2 732.8,288.2 729.7,293.3 729.3,298.9 726.1,305.5 715.7,307.5 705.3,309.5 705.1,308.1 696,309.4 686.8,310.7 680.3,311.5ZM706.1,217.4 710.2,215.4 712.6,218 707.5,219.9ZM342.6,639.2 344,637.8 347,637.6 347.8,639.2 346.6,641.4 344,641.6ZM365,645.4 367.4,643 369,645.2 371.4,647.4 369.2,648.2 366.2,647.4ZM378.6,648.8 384.8,648.3 385.4,649.3 379.4,649.8ZM382.6,652.4 384.1,652.2 384.8,653.4 383.6,654.1 382.6,653.6ZM387.2,651 390.2,651.4 392,651 395.6,651.8 396.8,653.4 394.4,654.8 392,654.6 390.8,653 388.4,652.6ZM400.2,660.2 404,661.4 410,663.8 416,668.6 412.4,672.8 407.6,675.2 405,678.6 402.8,676.4 401.6,671.6 399.2,668 401.6,664.4Z" fill="#dfdfdf" transform="translate(-3,3.9)" filter="url(#sh)"/>
<path d="M418.2,294.6 426.8,295.1 435.5,295.5 444.2,296 453.7,296.3 463.3,296.6 472.9,296.8 482.5,297 492.1,297 492.6,298.1 500.5,301.9 502.3,299.8 504.5,300.3 511.8,300.2 519.9,304 521,307 523.8,307.5 526.7,316.8 528.9,318.2 530,321.8 529.1,324.4 529.6,327.2 532.4,329 532.4,334.3 534.1,338.9 533.3,344.3 535.2,347 538.8,353.7 542.9,359.1 532.3,359.4 521.8,359.6 511.2,359.7 500.6,359.7 490,359.7 479.5,359.6 468.9,359.4 458.3,359.1 447.7,358.8 437.2,358.4 434.8,358.3 435.3,347.8 435.8,337.3 425.2,336.8 414.7,336.2 404.2,335.6 405.2,321.7 406.1,307.8 407,293.9 412.6,294.2ZM205.7,287.1 214.8,289.1 223.9,290.9 233.1,292.7 242.2,294.4 251.3,296.1 249,309 246.7,321.8 244.4,334.7 242.2,347.6 239.9,360.4 237.6,373.3 235.3,386.2 233,399 231.5,407.3 230,415.6 227.7,418.8 226,418.6 224.5,415.8 218.2,415.5 217,427.7 217.6,431.9 217.3,435.8 215.8,438.4 207.4,426.5 199.2,414.6 190,401.4 183.6,392.4 177.4,383.4 169.5,372.2 161.8,361 153.6,349.4 145.6,337.8 148.8,325 152,312.1 154.9,300.4 157.7,288.7 160.6,277 170.4,279.4 180.3,281.8 188.8,283.6 197.3,285.4ZM892.7,190.9 897.3,203.5 901.8,216.5 906.3,229.5 909.3,231 909.6,233.1 911.8,234 911.3,238.2 909.7,238.3 906.4,241.5 905.3,243.8 896.7,246 888,248.2 886.2,247 885.6,244 886.5,242.5 885.6,239.7 884.3,231 885.7,226.3 885.6,221.4 886.4,219.4 884.9,214.5 889.2,211.2 890.5,207.1 888.2,204.2 889.2,200.4 888.5,198.5 889,192.7 892.4,192.3ZM862.2,206 863.5,210.1 863.7,214.1 866.1,217.3 866.7,221.3 866.2,225.8 869,231 868.6,232.9 871.9,235.5 875.2,249.5 875.9,251.3 875.9,265.5 876.5,266.2 878.1,273.9 879.7,281.7 881.2,283 878,286.3 879.8,288.3 886.7,288.2 887.7,286.6 893.3,285 895.9,283.6 899.7,279 900.7,281.2 903.4,281.5 898.7,286.1 893.4,290 888.1,293.8 883.4,296.1 880.1,296.8 877.9,298.4 875.7,295.5 875.9,289.1 870.1,287.6 861.9,285 860.9,283.7 858.5,284.2 854.9,281.5 854.5,278.4 852,276.5 850.9,276.9 848.6,274.6 839,276.9 829.5,279.2 820,281.5 810.5,283.6 800.9,285.7 791.3,287.8 781.7,289.8 780.7,284.6 780.6,284.3 788.7,276.5 789.6,273.4 792.2,270.9 790.3,267.7 788.9,267.2 786.8,261.8 795.1,257.6 802.9,256 806.1,255.9 809.9,257.4 811.9,256 818.3,254.6 821.9,252.3 825.2,247.6 827.8,246.8 826.5,241.3 827.1,237.7 823.3,236.3 823.4,233.6 828.4,228.7 829.8,225.2 835.1,216.7 840.8,211.6 850.7,209.6 856.4,207.8ZM510.6,172.5 512.5,179 511.6,181.9 512.1,190.2 513.2,194.2 516.1,201.1 516.8,214.4 517.3,215.3 517.2,220.8 518.4,225.4 520.2,227.5 520.9,235.8 510.9,235.9 500.9,235.9 490.9,235.8 481,235.7 471,235.5 461,235.2 451,234.9 441,234.5 431.1,234 421.1,233.4 411.1,232.8 412,219.5 413,206.3 413.9,193.2 414.6,181.5 415.3,169.8 424.8,170.4 434.4,170.9 443.9,171.3 453.4,171.7 462.9,172 472.4,172.3 482,172.4 491.5,172.5 501,172.6ZM280.2,300.9 288.8,302.2 297.4,303.4 295.9,313.8 294.4,324.1 304.8,325.6 315.3,327 325.7,328.3 324.1,341.3 322.5,354.2 320.9,367.2 319.8,376 318.6,384.8 318.6,387.1 317.2,399.3 315.7,411.4 307.6,410.3 299.6,409.3 291.6,408.1 281.8,406.8 272,405.4 262.2,403.9 252.5,402.3 242.7,400.7 233,399 235.3,386.2 237.6,373.3 239.9,360.4 242.2,347.6 244.4,334.7 246.7,321.8 249,309 251.3,296.1 260.9,297.8 270.5,299.4ZM235.7,144.9 233,157.4 230.3,169.9 227.5,183.4 224.6,196.9 224.1,198.5 225.2,202.5 224.5,206.1 214.6,203.9 204.8,201.7 194.9,199.4 192.7,200.3 186.8,199.3 180.2,199.6 176.2,200.7 171.8,200.2 170.2,198.8 161.6,199.6 161.5,198.2 157.3,195.9 153.3,195.2 146.2,196.7 139.5,192.5 140.4,186.3 139.8,183.5 137.4,180.6 136,180.4 133.6,180.3 131.8,177.3 129.5,175.8 127.1,176.4 124.9,173.9 126.2,171.3 128.5,170.5 126.9,165.5 128.1,154.2 127.4,152.4 128.2,144.4 126.4,140.7 127,134.5 129.7,131 131.8,133.7 136.7,137.8 140.5,138.8 144,140.9 147.9,140.9 149.1,143.2 152.4,143.9 153.4,148.9 155.2,149.1 153.8,155 153.4,160.6 154.9,160.5 154.8,155.5 156.4,151.1 159.9,147.2 158.6,144.8 159.3,141.5 159,137.6 160.3,135.1 160.3,131.9 158.3,130.8 156.9,128 158,126 166.6,128.3 175.2,130.6 183.8,132.8 192.4,135 201,137.1 209.7,139.2 218.3,141.1 227,143.1ZM166,583 172.6,578.6 183.6,570.9 203.4,564.3 218.8,568.7 234.2,575.3 249.6,579.7 251.8,616 254,655.6 260.6,661.1 267.2,664.4 276,672.1 287,679.8 293.6,686.4 301.3,693 306.8,701.8 301.3,704 295.8,701.8 289.2,693 280.4,684.2 273.8,676.5 265,669.9 254,665.5 243,662.6 233.1,660 229.8,656.7 223.2,660 214.4,655.6 212.2,660 214.4,664.4 210,669.9 203.4,673.2 199,672.1 202.3,666.6 205.6,661.1 200.1,664.4 196.8,673.2 197.9,682 188,687.5 183.6,690.8 174.8,694.1 166,697.4 155,701.8 144,704.4 133,708.8 122,711.7 113.2,713.9 104.4,714.6 113.2,712.4 126.4,708.8 139.6,704 150.6,699.6 163.8,694.1 174.8,687.5 180.3,680.9 177,673.2 170.4,675.4 166,672.1 163.8,666.6 156.1,661.1 147.3,658.9 146.2,656.7 153.9,653.4 155,649 152.8,646.8 158.3,641.3 166,634.7 173.7,627 177,622.6 168.2,623.7 159.4,621.5 153.9,613.8 156.1,609.8 166,609.4 175.9,606.1 177,602.8 172.6,597.3 167.1,590.7 163.8,587.4ZM135.2,624.8 139.2,623.7 144,627.4 145.1,629.6 140.7,630.3 137.4,627.4ZM196.8,687.5 203.4,684.2 205.6,686.4 201.2,690.8 196.8,690.8ZM682,453.8 691.9,452.7 701.9,451.5 711.8,450.3 714.6,459 717.3,467.7 721.2,480.5 725.2,493.3 728,498.7 730.4,501.7 729.9,503.9 732.1,504.8 729.5,507.8 730,510.4 728.9,514.1 731.6,520.1 731.1,525.7 733.8,531 725,532.4 715.6,533.6 706.2,534.9 696.7,536 687.3,537.1 687,539.9 691.5,543.4 691.2,546.8 692.8,548.4 690.5,551.7 688.1,552.7 683.1,549.8 682.1,544.8 680.6,544.4 679.4,548.4 679.2,552.2 674.4,551.7 672.8,541.2 671.3,530.7 669.7,520.3 669.7,507 669.7,493.7 669.6,480.5 669.6,469 669.6,457.5 667.6,455.5 674.8,454.7ZM315.7,411.4 314.1,424.5 312.5,437.5 310.9,450.6 309.3,463.7 307.7,476.7 306.1,489.8 304.5,502.8 302.9,515.8 301.3,528.8 289.3,527.3 277.2,525.7 265.2,524 255.3,518.6 245.5,513.2 234.8,507.3 224.2,501.4 213.6,495.4 203.2,489.3 205.6,485 209.2,484.8 210.5,483.2 210.2,479.2 207.9,478.7 208.1,470.8 212.2,468.5 213.2,465.6 213.4,460.6 216.1,457.4 219.1,456.6 221.6,454.2 218.8,450.7 217.5,444.9 215.3,441 215.8,438.4 217.3,435.8 217.6,431.9 217,427.7 218.2,415.5 224.5,415.8 226,418.6 227.7,418.8 230,415.6 231.5,407.3 233,399 242.7,400.7 252.5,402.3 262.2,403.9 272,405.4 281.8,406.8 291.6,408.1 299.6,409.3 307.6,410.3ZM559,431.8 569.4,431.4 579.8,430.9 590.1,430.4 600.5,429.8 610.9,429.1 621.2,428.3 631.6,427.5 633.4,431.3 631,434.1 628.7,438.2 639.6,437.2 639.4,441.1 637,442.5 636.7,445.7 633.8,449.4 634.6,454.4 633.2,458.2 631.6,458.9 632.7,460.7 630.1,462.5 629.2,466.1 627.5,467.2 628.1,471.3 625.1,472.7 625.3,474 622,477.7 623.2,479.9 620.3,483.5 618,490.1 621.3,492.6 619.9,494.4 621.2,498.6 620,501.6 609.3,502.3 598.5,502.9 587.8,503.4 577,503.9 569.4,504.2 569,493.2 566.4,492.4 563,493.5 561.1,491.6 561,479.4 560.8,467.2 560.7,454.9 558.6,443.4 556.6,431.9ZM112,263.9 118.4,265.6 124.9,267.3 134.9,270.2 145,273 152.8,275 160.6,277 157.7,288.7 154.9,300.4 152,312.1 148.8,325 145.6,337.8 153.6,349.4 161.8,361 169.5,372.2 177.4,383.4 183.6,392.4 190,401.4 199.2,414.6 207.4,426.5 215.8,438.4 215.3,441 217.5,444.9 218.8,450.7 221.6,454.2 219.1,456.6 216.1,457.4 213.4,460.6 213.2,465.6 212.2,468.5 208.1,470.8 207.9,478.7 210.2,479.2 210.5,483.2 209.2,484.8 205.6,485 193.9,483.8 182.2,482.5 172.7,481.4 163.1,480.4 161.6,477.3 162.4,473 162.2,467.7 160.5,463.6 156.2,457.5 150.4,451.4 148.9,452.4 146.4,451 147.2,449.1 145.2,444.3 141,444.2 134.7,439.6 134.2,436.9 130.2,432.8 124.9,431.6 120.8,429.2 115.1,428.3 112.8,424.9 114.9,419.4 114.1,418.3 115.7,414.5 112.1,410.4 113,406.2 111.4,405.6 109.6,401.3 107.9,400.1 107.7,397.6 103.6,387.7 101.3,384.5 102.4,377.8 103.5,378.6 105.7,375.1 104.4,370.9 101.4,370.6 98.6,366.4 97.9,363.5 98.9,361.1 97.9,357.4 99.4,352.1 102.3,352.9 103.1,345.2 101.6,345.6 100.4,349.2 97,349.1 94,345.3 94.8,340.4 93.4,335.9 90.9,332.7 89.9,329.6 86.8,323.1 88,321.7 87.8,314.4 89.8,310.9 90.1,304.9 87.7,298.3 84.8,294 85.1,290.2 91.5,282.5 93.1,279.8 93.1,277.3 96.3,271.6 96.6,265.8 95.4,264 97.3,259.8 104.7,261.8ZM343.4,330.2 352,331.2 360.6,332.1 369.2,332.9 377.8,333.7 386.6,334.4 395.4,335 404.2,335.6 414.7,336.2 425.2,336.8 435.8,337.3 435.3,347.8 434.8,358.3 434.3,370.8 433.8,383.4 433.2,396 432.7,408.6 432.2,421.2 424.2,420.7 416.2,420.2 405.1,419.6 393.9,419 383.4,418.2 372.8,417.4 362.3,416.4 351.8,415.5 342.6,414.4 333.6,413.5 324.7,412.4 315.7,411.4 317.2,399.3 318.6,387.1 318.6,384.8 319.8,376 320.9,367.2 322.5,354.2 324.1,341.3 325.7,328.3 334.5,329.3ZM883,264.6 892.4,262.1 901.9,259.5 902,259.9 905.5,271.7 905.1,273.9 903.7,273.9 897.5,277.4 889.5,279.2 886.9,282.9 883.5,284.8 879.8,288.3 878,286.3 881.2,283 879.7,281.7 878.1,273.9 876.5,266.2ZM858.9,319.3 858.1,322.2 856.8,323.9 858,327 861,329.5 862.9,334.3 867.6,338.7 869.2,338.5 871.7,345.3 861.4,347.7 857.5,335.1 853.6,322.5 855.6,319.6ZM725,532.4 733.8,531 737.1,536.6 746.3,536 755.4,535.3 765.3,534.2 775.2,533.1 785.1,532 786.8,536.2 788.9,535.7 789,531.4 787.6,527.8 789,525.9 793.4,526.8 798.4,526.7 801.1,535.4 805.2,544.9 812.9,556.9 823.6,569.3 822.6,570.5 824.3,576.9 829.1,583.4 833.2,590.1 837.3,596.8 839.4,601.1 840.2,605.8 840.8,614.3 841.4,622.8 839.7,623.5 838.9,629 839.8,630.6 836.9,635 835.3,634.4 832,636.6 826.1,638.7 824,636.9 824.2,633.7 818.3,625.5 814.7,624.5 812,626.2 808.8,621.6 807.5,617.7 802.8,613.8 801.3,611 801.2,606.6 798.9,606.2 799.8,608.6 798,609.6 790.2,599.7 787.4,597.3 791.6,588.2 788,589.3 786,592.3 782.9,588.7 784.2,577 783.3,567.6 780.7,565.8 779.5,562.9 775.9,562.8 771,558.5 767.4,557.1 766.7,554.1 764.2,553.3 761.8,550.2 754.2,546.8 748.3,548.8 749.1,551.9 747,551.6 740,556.5 732.1,558.6 731.9,556.3 729.7,553.9 719.4,549.1 712.4,547.4 706.2,547.4 701.2,548.5 690.5,551.7 692.8,548.4 691.2,546.8 691.5,543.4 687,539.9 687.3,537.1 696.7,536 706.2,534.9 715.6,533.6ZM754.2,443.6 751.3,448.6 751.4,450.8 757.8,454.3 759.5,453.7 762.9,457.7 763.8,460 767.3,463.8 771.7,465.7 774.6,469.2 779.8,471.9 780,474.3 783.8,477.5 789,479.8 790.7,483 791.7,487.3 794.4,488.4 798.2,493.3 798.9,496.8 803.3,497.8 800.3,505.6 800.1,509.3 798.9,512.8 799.3,516.1 797.6,517.9 798.4,526.7 793.4,526.8 789,525.9 787.6,527.8 789,531.4 788.9,535.7 786.8,536.2 785.1,532 773.5,533.2 761.9,534.3 749.5,535.5 737.1,536.6 733.8,531 731.1,525.7 731.6,520.1 728.9,514.1 730,510.4 729.5,507.8 732.1,504.8 729.9,503.9 730.4,501.7 728,498.7 725.2,493.3 721.2,480.5 717.3,467.7 714.6,459 711.8,450.3 722.8,448.8 733.7,447.1 739.7,446.2 745.6,445.4ZM249.2,147.7 247.1,158 245.1,168.4 248.5,174.9 247.4,180.5 249.7,183.5 252.3,184.9 252.4,186.4 256.6,192.9 256.8,195.2 260.2,198 260.1,199.4 264.2,200.1 260.8,207.3 259.6,212 260.5,215.4 257.5,217.2 258.1,219.5 257,221.6 259.7,224.3 263.8,222.1 265.6,220.2 267.9,222.6 267.2,224.2 267.9,228.4 269.6,233 271.1,234.7 270.4,238.7 271.8,240.6 274.8,241.4 275.7,248.3 277.2,249.7 279,248.1 283.6,248.9 287.3,247.7 289.2,249 292.8,248.6 293.4,249.9 296.5,249.6 300.5,245.8 302.4,249.7 304.7,252.3 302.9,265 301.1,277.8 299.2,290.6 297.4,303.4 288.8,302.2 280.2,300.9 270.5,299.4 260.9,297.8 251.3,296.1 242.2,294.4 233.1,292.7 223.9,290.9 214.8,289.1 205.7,287.1 208.4,274.7 211,262.2 213.6,249.8 217,243.5 216.1,241.6 213.4,240.6 212.9,237.6 217.4,231 219.1,230.6 221.3,227.9 221.4,226 223.6,223.9 225.2,220.5 229.5,215.1 228.8,212.1 225.8,209.9 224.5,206.1 225.2,202.5 224.1,198.5 224.6,196.9 227.5,183.4 230.3,169.9 232.9,157.4 235.6,144.9 242.4,146.3ZM613.3,302.7 622.8,302 632.3,301.3 641.8,300.5 649.4,299.7 657,298.9 656.9,302.9 659.8,307.3 663.1,314.6 664.5,326.9 665.9,339.2 667.3,351.4 668.7,363.7 667.4,367.7 669.9,371.9 670.6,375.5 668.9,378.7 668.7,381.5 666.2,386.3 664.4,386.8 665.1,389.4 664,390.5 663.5,395.6 664.2,396.9 662.4,400.1 664.3,403.5 657.7,406.2 657.3,408.4 659.1,411 657.2,412.9 650.8,410.4 648.9,410.8 646.7,414.7 647.7,415.7 645,415.8 640.7,410.2 642,408.7 640.2,404.8 639.9,401.6 634.2,397.7 632.4,398.3 630.4,395.7 625.2,391.9 625,388.6 627.3,382.9 626.7,381 628.1,378.4 625.7,377.1 622,376.5 620.3,378.6 619,377.4 617.4,370.7 611.6,366.6 606.3,361.6 603.8,355.3 603.4,351.1 604.5,348.1 604.5,344.3 608.8,341.7 609,338.4 610.9,336.2 610.9,332.5 608.1,329.8 608.8,326 614.8,324.5 619.5,321.5 619.7,318.3 621.7,316.7 621.9,312.7 621.3,310.1 617.6,308.3 617,306.2ZM686.8,310.7 696,309.4 705.1,308.1 705.3,309.5 707.1,321.9 709,334.2 710.9,348.7 712.9,363.2 711.8,364.3 713.9,369.7 711.1,370.3 708.4,372.6 704.1,372.3 704.9,376.4 702.3,378.4 701.6,381.2 698.9,382.6 698.1,388 696.4,389.6 692.5,388.2 691.5,385.9 688.3,389 688.8,391.2 685.3,392.5 683.9,390.5 680.1,393.1 679,395.4 674.5,392.8 672.4,393.8 670.8,392.4 669.6,394.1 665.5,394.8 664.2,396.9 663.5,395.6 664,390.5 665.1,389.4 664.4,386.8 666.2,386.3 668.7,381.5 668.9,378.7 670.6,375.5 669.9,371.9 667.4,367.7 668.7,363.7 667.3,351.4 665.9,339.2 664.5,326.9 663.1,314.6 664.8,315.8 669.6,315.3 673.9,312.3 680.3,311.5ZM600.6,282.9 602.9,282.7 603.3,285.8 605.7,287.7 604.1,290.3 604.9,295 606.4,298.2 612,300.2 613.3,302.7 617,306.2 617.6,308.3 621.3,310.1 621.9,312.7 621.7,316.7 619.7,318.3 619.5,321.5 614.8,324.5 608.8,326 608.1,329.8 610.9,332.5 610.9,336.2 609,338.4 608.8,341.7 604.5,344.3 604.5,348.1 602.8,347.5 599.2,343.5 597.6,343.7 590.1,344.4 582.6,345 575.1,345.6 564.2,346.3 553.2,346.8 544.2,346.9 535.2,347 533.3,344.3 534.1,338.9 532.4,334.3 532.4,329 529.6,327.2 529.1,324.4 530,321.8 528.9,318.2 526.7,316.8 523.8,307.5 520.8,303 522.1,299.9 522.6,295.7 523.7,294.2 521.8,292.2 522.2,288.5 521.3,286.8 523.3,286.4 533,286.2 542.7,285.9 552.3,285.6 562,285.2 571.7,284.7 581.3,284.2 591,283.6ZM437.2,358.4 447.7,358.8 458.3,359.1 468.9,359.4 479.5,359.6 490,359.7 500.6,359.7 511.2,359.7 521.8,359.6 532.3,359.4 542.9,359.1 544.5,361 549.8,362.4 546.4,368.6 548.5,370.6 551.2,375.5 554.7,376.4 555.1,387.7 555.5,398.9 555.9,410.2 556.3,421.5 544.8,421.9 533.4,422.2 522,422.4 510.6,422.5 499.1,422.5 487.7,422.5 476.3,422.4 464.9,422.1 454,421.9 443.1,421.6 432.2,421.2 432.7,408.6 433.2,396 433.8,383.4 434.3,370.8 434.8,358.3ZM728.7,367.9 732.7,370.2 735,368.3 741.4,368.9 742.8,366.6 745,365.5 746.3,368.9 748.2,369.1 750.9,371.6 751.5,377.9 754.2,381.5 757.3,384.1 758.5,386.3 762,388.2 764.2,388.1 758.9,394.8 753.4,398.8 753.7,400.4 751.5,402.2 751.6,404 748.6,405.3 747.8,407.8 739.4,412.2 739.2,412.5 732.1,413.5 725,414.5 718.7,415 712.5,415.6 709.3,416.3 700,417.1 690.7,417.9 680.3,419.4 669.8,420.8 666,420.3 666.7,424 656.3,425 645.9,425.9 643.9,426.3 644.6,423.6 647.1,424.3 647.7,415.7 646.7,414.7 648.9,410.8 650.8,410.4 657.2,412.9 659.1,411 657.3,408.4 657.7,406.2 664.3,403.5 662.4,400.1 664.2,396.9 665.5,394.8 669.6,394.1 670.8,392.4 672.4,393.8 674.5,392.8 679,395.4 680.1,393.1 683.9,390.5 685.3,392.5 688.8,391.2 688.3,389 691.5,385.9 692.5,388.2 696.4,389.6 698.1,388 698.9,382.6 701.6,381.2 702.3,378.4 704.9,376.4 704.1,372.3 708.4,372.6 711.1,370.3 713.9,369.7 711.8,364.3 712.9,363.2 719.1,362.3 723,366.1 723.5,367.9ZM577,503.9 587.8,503.4 598.5,502.9 609.3,502.3 620,501.6 621.8,503.9 620.7,504.9 620.8,509.1 623.6,511.5 624.4,517.6 622.7,522.5 618.7,525.8 618,530.5 616.2,530.2 616.4,537.8 614.3,538.2 615.8,542.2 614.6,543.8 626,542.9 637.3,542 648.7,541.1 647.5,548 650.9,552.3 651.9,555.6 654.3,557.5 649.2,560.9 648.9,562.9 653.5,563.9 655.1,560.4 659.2,563.4 659.1,566 657,567.3 652.8,566.7 653.5,568.6 652.4,571.6 656.1,573.9 661.8,574.1 664.1,577 665.8,577.3 663.2,581.1 659.9,580.7 656.8,577.3 649.9,576 649.6,572.5 646.4,574 646.8,576.9 645.6,579.7 643.2,580.4 641.1,577.5 636.9,577.7 635.6,581 632.8,582.1 629.7,580.5 627.2,580.4 624.5,575.5 620.2,573.5 618.7,574 616.7,569.8 612,570.7 611.7,568.1 607.1,570.9 607.9,572.8 604.4,574.8 598.7,574.3 592,571.8 587.3,570.8 577.4,572.3 576.1,573.2 574.4,571.2 578.4,563.6 576.8,559.7 578,557.5 577.3,554.7 579,552.5 580.6,547 580.1,542.6 574.8,534.4 574.5,529.9 570.4,525.5 569.9,514.9 569.4,504.2ZM911.8,234 909.6,233.1 909.3,231 906.3,229.5 901.8,216.5 897.3,203.5 892.7,190.9 898,186.3 896.6,185.2 898,181.4 899.9,179.3 899.1,178.2 900.7,175.7 899,172.4 898.7,166.8 900.3,164.4 899.4,158.6 902.3,149.3 905.1,140.1 907.8,139.9 909.2,143.5 911.4,144.2 915.1,140.6 917.8,139.7 919.3,137.7 924.2,139.5 927.3,141.3 931.1,152.3 935,163.3 936.5,168.6 941.8,168.4 941.9,170.9 943.8,172.6 943.5,174.9 946.5,177.2 948.9,175.6 953.9,181.7 952.1,185.9 950,185.3 949.3,187.9 947.1,188.1 947.5,190 944.8,190.7 942,196.3 940,193.8 938.5,194.1 940.3,197 937.5,199.6 935.9,197.3 934.7,199.2 931.1,200.4 930,197.5 928,198.9 929.1,200.8 928.5,205.8 929.3,206.9 927.4,210.1 924.4,210.1 923.7,213.1 921.5,214.2 920.4,216.8 918,217.1 916.7,215.1 914.6,219.6 916.1,221.5 914,223 914.4,224.9 912.4,228.1ZM795.6,335.6 805.3,333.5 815,331.5 824.7,329.3 834.3,327.1 843.9,324.8 853.6,322.5 857.5,335.1 861.4,347.7 871.7,345.3 870.7,354.7 868.4,355.6 864.3,358 861.1,359.7 860.4,356.3 858.7,355.3 860.2,353.4 856.9,350.7 856.5,352.3 853.1,352.8 851.1,349.4 852.1,349.1 851,344.3 851.6,342.2 848.7,336.1 849.5,331.8 852,330.5 851.5,326.5 849.6,327.5 850,329.5 846.5,333 845.8,335.7 847,341.6 846.1,344.8 847.9,349.3 850.8,352.1 851.1,354.6 853,356.7 852.7,358.6 848.3,356.2 842.7,355.9 840.3,353.1 837.8,355.6 836.1,353.4 837.7,349.7 838.4,346.2 839.9,343.6 837.5,342 836.5,343.5 833.9,342.1 830.4,341.9 829.7,338.9 827.6,337.6 825.1,337.8 822,332.5 819.4,333.1 816.3,331.8 815.2,333.7 812.5,334.1 812.4,336.5 807.4,336 805,339.7 802.8,339.5 800.4,343.6 797.6,346.2ZM909.7,238.3 911.3,238.2 912.9,241.5 913.1,244.6 911.6,247.9 912.5,251 915.8,250.4 918.8,253 919.2,255.6 921,255.8 921.9,258 926.7,258.7 929.8,256.1 928.2,253.1 925.6,252.2 925.5,251.1 927.7,251.1 930.2,253.6 931.8,257.9 930.7,258.4 924.4,263 921.8,264 919.6,262.6 917.3,263.9 917.7,265.3 915.2,267 912.9,263.8 912.3,263.2 910.3,262.3 908.1,257.8 905.9,258.5 902,259.9 901.9,259.5 892.4,262.1 883,264.6 876.5,266.2 875.9,265.5 875.9,251.3 881.9,249.7 888,248.2 896.7,246 905.3,243.8 906.4,241.5ZM586.5,217.1 585.3,216.3 582.5,218.2 583.2,230.4 582.4,231.7 578.4,233.7 575.2,238.3 575.2,241.2 576.9,241.4 578.9,243.9 577.4,247.2 577.9,250.7 577.3,258.3 581.4,261.9 584.5,262 586.2,264.2 591,266.2 591.9,268.9 596.4,272.1 598.9,272.7 602.1,277.1 601.9,280.4 602.9,282.7 600.6,282.9 591,283.6 581.3,284.2 571.7,284.7 562,285.2 552.3,285.6 542.7,285.9 533,286.2 523.3,286.4 523.1,273.9 522.9,261.4 522.7,248.9 519.3,246.6 516.6,242.7 520.6,238.2 520.9,235.8 520.2,227.5 518.4,225.4 517.2,220.8 517.3,215.3 516.8,214.4 516.1,201.1 513.2,194.2 512.1,190.2 511.6,181.9 512.5,179 510.6,172.5 520.2,172.4 529.9,172.2 539.6,172 539.3,164.1 542.1,164.2 543.9,165.7 546.2,176.4 547.7,177.5 552.3,177.7 552.9,178.7 558.3,178.9 559,181.1 563.6,180.3 563.5,179.4 567.1,178.1 570.3,178.4 574,179.9 575.1,182 577.2,181.6 579.4,186.1 580.2,184.2 583.7,183 584.4,184.9 588.7,186 588.8,187.8 591,189.1 595.2,188 597.6,185.8 601,184.3 602.5,187.2 604.8,186.4 607.7,186.8 611,186.1 615.1,188.3 618.7,187.6 618.4,188.7 613.9,191.7 607.5,194.3 603.4,196.8 597.6,202.6 595.2,206 591.4,210.1 585.2,215.5ZM663,456 667.6,455.5 669.6,457.5 669.6,469 669.6,480.5 669.7,493.7 669.7,507 669.7,520.3 671.3,530.7 672.8,541.2 674.4,551.7 672.5,552.8 668.1,552.8 666.2,551.6 661.9,552.9 656,555.9 654.3,557.5 651.9,555.6 650.9,552.3 647.5,548 648.7,541.1 637.3,542 626,542.9 614.6,543.8 615.8,542.2 614.3,538.2 616.4,537.8 616.2,530.2 618,530.5 618.7,525.8 622.7,522.5 624.4,517.6 623.6,511.5 620.8,509.1 620.7,504.9 621.8,503.9 620,501.6 621.2,498.6 619.9,494.4 621.3,492.6 618,490.1 620.3,483.5 623.2,479.9 622,477.7 625.3,474 625.1,472.7 628.1,471.3 627.5,467.2 629.2,466.1 630.1,462.5 632.7,460.7 631.6,458.9 642,458 652.5,457ZM597.6,343.7 599.2,343.5 602.8,347.5 604.5,348.1 603.4,351.1 603.8,355.3 606.3,361.6 611.6,366.6 617.4,370.7 619,377.4 620.3,378.6 622,376.5 625.7,377.1 628.1,378.4 626.7,381 627.3,382.9 625,388.6 625.2,391.9 630.4,395.7 632.4,398.3 634.2,397.7 639.9,401.6 640.2,404.8 642,408.7 640.7,410.2 645,415.8 647.7,415.7 647.1,424.3 644.6,423.6 643.9,426.3 642.8,426.5 641.9,426.5 642.4,431.7 639.6,437.2 628.7,438.2 631,434.1 633.4,431.3 631.6,427.5 621.2,428.3 610.9,429.1 600.5,429.8 590.1,430.4 579.8,430.9 569.4,431.4 559,431.8 556.6,431.9 556.3,421.5 555.9,410.2 555.5,398.9 555.1,387.7 554.7,376.4 551.2,375.5 548.5,370.6 546.4,368.6 549.8,362.4 544.5,361 542.9,359.1 538.8,353.7 535.2,347 544.2,346.9 553.2,346.8 564.2,346.3 575.1,345.6 582.6,345 590.1,344.4ZM415.3,169.8 414.6,181.5 413.9,193.2 413,206.3 412,219.5 411.1,232.8 410.5,242.6 409.9,252.4 409.7,252.4 400.5,251.7 391.3,251 382.1,250.2 372.8,249.3 363.4,248.4 354,247.4 344.6,246.4 335.3,245.3 325.6,244.1 315.9,242.8 306.2,241.4 304.7,252.3 302.4,249.7 300.5,245.8 296.5,249.6 293.4,249.9 292.8,248.6 289.2,249 287.3,247.7 283.6,248.9 279,248.1 277.2,249.7 275.7,248.3 274.8,241.4 271.8,240.6 270.4,238.7 271.1,234.7 269.6,233 267.9,228.4 267.2,224.2 267.9,222.6 265.6,220.2 263.8,222.1 259.7,224.3 257,221.6 258.1,219.5 257.5,217.2 260.5,215.4 259.6,212 260.8,207.3 264.2,200.1 260.1,199.4 260.2,198 256.8,195.2 256.6,192.9 252.4,186.4 252.3,184.9 249.7,183.5 247.4,180.5 248.5,174.9 245.1,168.4 247.1,158 249.2,147.7 258.1,149.5 267,151.2 275.9,152.8 284.9,154.4 293.8,155.9 302.8,157.4 311.8,158.7 321.2,160.1 330.7,161.3 340.1,162.5 349.5,163.7 358.9,164.8 368.3,165.8 377.7,166.7 387.1,167.6 396.5,168.4 405.9,169.1ZM870.1,287.6 875.9,289.1 875.7,295.5 873.5,297.5 873,300.9 877.6,301.3 878.6,303.6 879.6,314.9 876.9,324.3 874.3,327.5 872.8,333.3 870.5,330.4 865.5,329.9 858.8,326.8 857.7,323.9 857.5,323.5 858.1,322.2 858.9,319.3 862.7,316.6 862.6,315 866.5,310.5 866.8,308.5 861.3,305.5 860.5,303 858.4,302.8 857.6,300.5 859.1,296.4 857.3,294.6 860,289.4 860.3,287 861.9,285ZM342.6,414.4 351.8,415.5 362.3,416.4 372.8,417.4 383.4,418.2 393.9,419 405.1,419.6 416.2,420.2 415.6,430.7 415,430.6 414.3,443.6 413.5,456.6 412.8,469.5 412,482.5 411.3,493 410.5,503.6 409.9,514 409.3,524.4 398.8,523.8 388.2,523.1 377.7,522.3 367.2,521.5 356.7,520.6 346.2,519.7 345.5,521.7 347.3,524.2 337.3,523.3 327.3,522.2 317.4,521.1 316.3,530.5 308.8,529.7 301.3,528.8 302.9,515.8 304.5,502.8 306.1,489.8 307.7,476.7 309.3,463.7 310.9,450.6 312.5,437.5 314.1,424.5 315.7,411.4 324.7,412.4 333.6,413.5ZM784.2,405.2 795.5,403.4 802,402.2 808.5,400.9 818.5,398.8 828.4,396.6 838.4,394.4 848.3,392.1 858.2,389.7 868.2,387.2 872,394.9 867.3,395.2 866.9,396.4 861.6,399 861.1,400.3 857.4,401.5 858,402.9 862.2,400.8 863.1,401.6 867.8,399.4 869.9,400.8 872.7,399.3 874,400.1 874.5,406.5 872.6,407.3 869.7,413.3 864.2,414.8 864.1,418.5 867.3,421.4 869.4,421.6 867.1,428.1 864,428.2 858.8,430 855.4,432.1 850.4,437.3 847,443.5 846,450.5 842.1,449.8 836.3,452.5 824.6,444.8 813,437.1 803.5,438.8 794,440.4 793.8,438 790.5,435 789,436.6 788.5,434.5 778.1,435.9 767.6,437.2 763.1,438.8 759.8,441.3 754.2,443.6 745.6,445.4 739.7,446.2 733.7,447.1 733.4,442.2 736.7,441.2 737.5,437.6 741.2,433.9 745.7,433.1 749.4,429.2 753.5,427.4 756.4,422.2 758.5,420.4 759.3,422.4 765.2,417.3 768.3,417.6 769.7,413.3 772.6,411.8 772.5,406.8 778.3,406ZM770.3,292.5 772.9,306.3 775.6,320 773.5,321.6 775,323.6 775.6,326.8 774.4,332.2 774.3,340 769.4,347.8 767.6,349.1 765.6,348 764.3,351.3 762.4,351.5 761.1,355.8 762,358.1 760.7,360.3 757.8,357.6 755.6,363.1 757,366.1 755.2,367.6 755.1,370.4 750.9,371.6 748.2,369.1 746.3,368.9 745,365.5 742.8,366.6 741.4,368.9 735,368.3 732.7,370.2 728.7,367.9 723.5,367.9 723,366.1 719.1,362.3 712.9,363.2 710.9,348.7 709,334.2 707.1,321.9 705.3,309.5 715.7,307.5 726.1,305.5 732.5,307.4 734.9,308.7 736.1,306.9 740,309.6 742.3,310.3 749.1,306.3 753.4,306.1 757.3,301.5 763.2,296.5ZM464.9,422.1 476.3,422.4 487.7,422.5 499.1,422.5 510.6,422.5 522,422.4 533.4,422.2 544.8,421.9 556.3,421.5 556.6,431.9 558.6,443.4 560.7,454.9 560.8,467.2 561,479.4 561.1,491.6 554.4,489.6 552.6,487.3 548,485.4 546.9,487.2 542.4,487.2 541.5,486.1 537.4,488.3 535.7,487.2 532,488.3 528.6,491.5 527.2,489.7 523.6,488.3 519.7,488.4 518.5,486 514.1,490.7 512.7,488.1 510.7,488.9 509.1,487.2 505,485.6 502,488.4 500.7,485.5 498.2,485.2 496.8,482.9 493.4,481.9 491.2,483.9 489.8,482.2 486.4,482.4 482.6,480.5 479.1,480.7 477.9,476.7 472.4,476.3 470.3,477 466.5,472.9 465.2,473.1 465.5,459.6 465.8,446.1 466.1,432.6 455.9,432.3 445.8,432 435.6,431.6 425.6,431.2 415.6,430.7 416.2,420.2 424.2,420.7 432.2,421.2 443.1,421.6 454,421.9ZM136,180.4 137.4,180.6 139.8,183.5 140.4,186.3 139.5,192.5 146.2,196.7 153.3,195.2 157.3,195.9 161.5,198.2 161.6,199.6 170.2,198.8 171.8,200.2 176.2,200.7 180.2,199.6 186.8,199.3 192.7,200.3 194.9,199.4 204.8,201.7 214.6,203.9 224.5,206.1 225.8,209.9 228.8,212.1 229.5,215.1 225.2,220.5 223.6,223.9 221.4,226 221.3,227.9 219.1,230.6 217.4,231 212.9,237.6 213.4,240.6 216.1,241.6 217,243.5 213.6,249.8 211,262.2 208.4,274.7 205.7,287.1 197.3,285.4 188.8,283.6 180.3,281.8 170.4,279.4 160.6,277 152.8,275 145,273 134.9,270.2 124.9,267.3 118.4,265.6 112,263.9 104.7,261.8 97.3,259.8 95.9,256.8 96.7,250 98.3,245.6 97.3,241.5 99.7,238.6 102.4,233.6 106.2,228.5 108.6,223.8 111.9,215.5 115.2,207.2 115.7,204.9 119.2,197.9 122.8,187.7 123.7,181.8 125.3,178.7 131.8,177.3 133.6,180.3ZM780.7,284.6 781.7,289.8 791.3,287.8 800.9,285.7 810.5,283.6 820,281.5 829.5,279.2 839,276.9 848.6,274.6 850.9,276.9 852,276.5 854.5,278.4 854.9,281.5 858.5,284.2 860.9,283.7 861.9,285 860.3,287 860,289.4 857.3,294.6 859.1,296.4 857.6,300.5 858.4,302.8 860.5,303 861.3,305.5 866.8,308.5 866.5,310.5 862.6,315 862.7,316.6 858.9,319.3 855.6,319.6 853.6,322.5 843.9,324.8 834.3,327.1 824.7,329.3 815,331.5 805.3,333.5 795.6,335.6 787.4,337.2 779.2,338.8 777.4,329.4 775.6,320 772.9,306.3 770.3,292.5 772.9,290.8 780.6,284.3ZM912.9,263.8 915.2,267 912.3,268.4ZM905.9,258.5 908.1,257.8 910.3,262.3 912.3,263.2 910.4,263.5 909.7,266.9 910.5,271.2 905.1,273.9 905.5,271.7 902,259.9ZM759.8,441.3 763.1,438.8 767.6,437.2 778.1,435.9 788.5,434.5 789,436.6 790.5,435 793.8,438 794,440.4 803.5,438.8 813,437.1 824.6,444.8 836.3,452.5 833.5,454.1 830.5,458.3 827.9,464.3 828.2,468.7 825.9,472.7 822,473.5 821.7,476.1 818.2,479.6 816.5,483 813.1,484.9 809.8,488.8 809.7,490.3 806.4,492.7 803.3,497.8 798.9,496.8 798.2,493.3 794.4,488.4 791.7,487.3 790.7,483 789,479.8 783.8,477.5 780,474.3 779.8,471.9 774.6,469.2 771.7,465.7 767.3,463.8 763.8,460 762.9,457.7 759.5,453.7 757.8,454.3 751.4,450.8 751.3,448.6 754.2,443.6ZM411.1,232.8 421.1,233.4 431.1,234 441,234.5 451,234.9 461,235.2 471,235.5 481,235.7 490.9,235.8 500.9,235.9 510.9,235.9 520.9,235.8 520.6,238.2 516.6,242.7 519.3,246.6 522.7,248.9 522.9,261.4 523.1,273.9 523.3,286.4 521.3,286.8 522.2,288.5 521.8,292.2 523.7,294.2 522.6,295.7 522.1,299.9 520.8,303 523.8,307.5 521,307 519.9,304 511.8,300.2 504.5,300.3 502.3,299.8 500.5,301.9 492.6,298.1 492.1,297 482.5,297 472.9,296.8 463.3,296.6 453.7,296.3 444.2,296 435.5,295.5 426.8,295.1 418.2,294.6 412.6,294.2 407,293.9 407.9,280 408.8,266.2 409.7,252.4 409.9,252.4 410.5,242.6ZM666.7,424 666,420.3 669.8,420.8 680.3,419.4 690.7,417.9 700,417.1 709.3,416.3 712.5,415.6 718.7,415 725,414.5 732.1,413.5 739.2,412.5 739.4,412.2 750.5,410.4 761.5,408.7 772.5,406.8 772.6,411.8 769.7,413.3 768.3,417.6 765.2,417.3 759.3,422.4 758.5,420.4 756.4,422.2 753.5,427.4 749.4,429.2 745.7,433.1 741.2,433.9 737.5,437.6 736.7,441.2 733.4,442.2 733.7,447.1 722.8,448.8 711.8,450.3 701.9,451.5 691.9,452.7 682,453.8 674.8,454.7 667.6,455.5 663,456 652.5,457 642,458 631.6,458.9 633.2,458.2 634.6,454.4 633.8,449.4 636.7,445.7 637,442.5 639.4,441.1 639.6,437.2 642.4,431.7 641.9,426.5 642.8,426.5 643.9,426.3 645.9,425.9 656.3,425ZM435.6,431.6 445.8,432 455.9,432.3 466.1,432.6 465.8,446.1 465.5,459.6 465.2,473.1 466.5,472.9 470.3,477 472.4,476.3 477.9,476.7 479.1,480.7 482.6,480.5 486.4,482.4 489.8,482.2 491.2,483.9 493.4,481.9 496.8,482.9 498.2,485.2 500.7,485.5 502,488.4 505,485.6 509.1,487.2 510.7,488.9 512.7,488.1 514.1,490.7 518.5,486 519.7,488.4 523.6,488.3 527.2,489.7 528.6,491.5 532,488.3 535.7,487.2 537.4,488.3 541.5,486.1 542.4,487.2 546.9,487.2 548,485.4 552.6,487.3 554.4,489.6 561.1,491.6 563,493.5 566.4,492.4 569,493.2 569.4,504.2 569.9,514.9 570.4,525.5 574.5,529.9 574.8,534.4 580.1,542.6 580.6,547 579,552.5 577.3,554.7 578,557.5 576.8,559.7 578.4,563.6 574.4,571.2 576.1,573.2 571.4,573.8 564.1,577.6 559.6,580.6 563.1,573.5 557.5,572.6 555,578.9 556.9,582.4 550.6,588.4 544.3,593.7 536.9,597.4 529.5,600.9 526.7,595.5 524.9,602.4 521.2,607.2 517.5,612.8 513.8,612.8 511.9,618 511,624.1 509.2,625.2 510.7,634.4 514,643.6 515.6,651.6 511.2,654.1 506,650.2 495.8,649.6 487.2,645.9 478.7,642.1 475.5,633.3 472.3,624.8 471.2,618.6 465.8,614 460.4,605.2 456.7,603 453.2,595.5 450.3,586.3 445.3,581 437.3,572 426.3,571 420.5,569 413.8,571.6 409.9,579.5 404.3,587 401.6,586.3 395.3,582.6 389,578.9 380.3,571.6 377.3,562.9 374.1,551.2 365.8,545.4 356,533.1 349.5,525.2 347.3,524.2 345.5,521.7 346.2,519.7 356.7,520.6 367.2,521.5 377.7,522.3 388.2,523.1 398.8,523.8 409.3,524.4 409.9,514 410.5,503.6 411.3,493 412,482.5 412.8,469.5 413.5,456.6 414.3,443.6 415,430.6 415.6,430.7 425.6,431.2ZM888.5,198.5 889.2,200.4 888.2,204.2 890.5,207.1 889.2,211.2 884.9,214.5 886.4,219.4 885.6,221.4 885.7,226.3 884.3,231 885.6,239.7 886.5,242.5 885.6,244 886.2,247 888,248.2 881.9,249.7 875.9,251.3 875.2,249.5 871.9,235.5 868.6,232.9 869,231 866.2,225.8 866.7,221.3 866.1,217.3 863.7,214.1 863.5,210.1 862.2,206 869.6,204 877,202 882.8,200.3ZM868.4,355.6 870.7,354.7 869.5,358.7 867.6,360.4 867.5,365.4 866,373.8 863.6,376.1 862,373.5 861.9,366.9 864.3,358ZM739.4,412.2 747.8,407.8 748.6,405.3 751.6,404 751.5,402.2 753.7,400.4 753.4,398.8 758.9,394.8 764.2,388.1 764.3,389.9 767.1,393 770.2,394.2 772.3,393.7 774.9,390.4 777.5,392.1 781.5,390.2 788.2,384.9 789.1,386 791.6,383.6 790.9,379.9 792.1,376.3 794.5,372.6 795,368.7 797.4,364.2 797.7,359.3 801,361.5 803.8,361.9 805.1,359.8 807,351.8 809.4,353.2 815,343.3 814.5,337.1 824.3,342.1 825.1,337.8 827.6,337.6 829.7,338.9 830.4,341.9 833.9,342.1 836.5,343.5 838.4,346.2 837.7,349.7 836,351.1 835.5,354.3 836.6,356.2 840.8,354.5 842.3,357.6 848.2,357.6 850.4,359.8 855.6,361.5 854.9,367.7 857.9,371.7 856.2,374.4 856.5,377 858.9,378 857.3,381 853.1,378.6 852.6,379.9 856.1,381.6 864.2,380.2 868.2,387.2 858.2,389.7 848.3,392.1 838.4,394.4 828.4,396.6 818.5,398.8 808.5,400.9 802,402.2 795.5,403.4 784.2,405.2 778.3,406 772.5,406.8 761.5,408.7 750.5,410.4ZM775.6,320 777.4,329.4 779.2,338.8 787.4,337.2 795.6,335.6 797.6,346.2 800.4,343.6 802.8,339.5 805,339.7 807.4,336 812.4,336.5 812.5,334.1 815.2,333.7 816.3,331.8 819.4,333.1 822,332.5 825.1,337.8 824.3,342.1 814.5,337.1 815,343.3 809.4,353.2 807,351.8 805.1,359.8 803.8,361.9 801,361.5 797.7,359.3 797.4,364.2 795,368.7 794.5,372.6 792.1,376.3 790.9,379.9 791.6,383.6 789.1,386 788.2,384.9 781.5,390.2 777.5,392.1 774.9,390.4 772.3,393.7 770.2,394.2 767.1,393 764.3,389.9 764.2,388.1 762,388.2 758.5,386.3 757.3,384.1 754.2,381.5 751.5,377.9 750.9,371.6 755.1,370.4 755.2,367.6 757,366.1 755.6,363.1 757.8,357.6 760.7,360.3 762,358.1 761.1,355.8 762.4,351.5 764.3,351.3 765.6,348 767.6,349.1 769.4,347.8 774.3,340 774.4,332.2 775.6,326.8 775,323.6 773.5,321.6ZM609.8,218.2 612.6,219.2 614.5,222.6 622.2,224 629.8,225.4 636.4,227.9 638.2,227 644.7,228.4 646.6,230.8 649.9,232.9 650.2,236.6 649.1,239.5 652.7,239.6 651.6,242.7 654.1,244.6 653.8,247.1 651.1,247.9 649.1,252.9 648.6,256.3 650.4,256.7 652.4,254.3 654.4,249.9 657.3,248 659.1,242.5 662,241 662.1,243.8 660.3,246.5 657.2,255.6 656.6,260.5 657.1,263.9 655.6,265.2 654.8,270 655.7,273.9 654.7,276.7 653.6,283.4 654.6,288.4 656.9,292.8 657,298.9 649.4,299.7 641.8,300.5 632.3,301.3 622.8,302 613.3,302.7 612,300.2 606.4,298.2 604.9,295 604.1,290.3 605.7,287.7 603.3,285.8 602.9,282.7 601.9,280.4 602.1,277.1 598.9,272.7 596.4,272.1 591.9,268.9 591,266.2 586.2,264.2 584.5,262 581.4,261.9 577.3,258.3 577.9,250.7 577.4,247.2 578.9,243.9 576.9,241.4 575.2,241.2 575.2,238.3 578.4,233.7 582.4,231.7 583.2,230.4 582.5,218.2 585.3,216.3 586.5,217.1 589.7,217.1 599.5,212.9 603.1,210.7 604.4,212.1 602.7,214.9 607.7,218ZM335.3,245.3 344.6,246.4 354,247.4 363.4,248.4 372.8,249.3 382.1,250.2 391.3,251 400.5,251.7 409.7,252.4 408.8,266.2 407.9,280 407,293.9 406.1,307.8 405.2,321.7 404.2,335.6 395.4,335 386.6,334.4 377.8,333.7 369.2,332.9 360.6,332.1 352,331.2 343.4,330.2 334.5,329.3 325.7,328.3 315.3,327 304.8,325.6 294.4,324.1 295.9,313.8 297.4,303.4 299.2,290.6 301.1,277.8 302.9,265 304.7,252.3 306.2,241.4 315.9,242.8 325.6,244.1ZM609.8,218.2 615.6,215 621.1,211.6 626.7,209.8 630,206.4 634.6,201.7 639.9,197 645.5,196 643.7,199.1 639.8,202.7 638.1,207 637.5,211.2 641,207.7 646.1,207.8 650.9,211 653.8,214.8 659.2,214 664.6,215.4 671.1,209.6 675.4,208.6 683.1,206.3 687.8,205.2 687.4,210.9 693.2,210.5 697.5,209.4 701.4,212.6 702.5,216 705.2,218.1 699.1,220.1 694.1,223.4 690.3,220.6 682.1,220.4 676.7,223.9 671.7,225 668.6,229.8 667.1,232.5 664.6,228 661,228.4 660.1,230.8 656.8,236.9 654.1,244.6 651.6,242.7 652.7,239.6 649.1,239.5 650.2,236.6 649.9,232.9 646.6,230.8 644.7,228.4 638.2,227 636.4,227.9 629.8,225.4 622.2,224 614.5,222.6 612.6,219.2ZM673.9,312.3 676.7,306.9 679.8,300.2 680.7,291.7 678.9,284.5 675.4,277.6 673.4,270.5 673.7,264.2 675.6,257.6 675.3,250.7 677.1,245.9 681.1,243.7 683.2,239.2 684.6,243.8 684.1,247.7 686.4,245.7 686.3,237.9 690.3,234.4 692.3,232.9 689.3,229.5 691.1,226.1 694.2,225 698.7,227.1 704.2,229.4 712,231.4 715.4,234 715.5,237.1 718.4,240.9 718.9,248.2 717.8,253.2 713.5,260 712.1,265.7 717.7,266.9 720.4,260.2 725.9,256.1 731.1,259.9 734.6,268.8 737.5,276.8 737.6,284.2 732.8,288.2 729.7,293.3 729.3,298.9 726.1,305.5 715.7,307.5 705.3,309.5 705.1,308.1 696,309.4 686.8,310.7 680.3,311.5ZM706.1,217.4 710.2,215.4 712.6,218 707.5,219.9ZM342.6,639.2 344,637.8 347,637.6 347.8,639.2 346.6,641.4 344,641.6ZM365,645.4 367.4,643 369,645.2 371.4,647.4 369.2,648.2 366.2,647.4ZM378.6,648.8 384.8,648.3 385.4,649.3 379.4,649.8ZM382.6,652.4 384.1,652.2 384.8,653.4 383.6,654.1 382.6,653.6ZM387.2,651 390.2,651.4 392,651 395.6,651.8 396.8,653.4 394.4,654.8 392,654.6 390.8,653 388.4,652.6ZM400.2,660.2 404,661.4 410,663.8 416,668.6 412.4,672.8 407.6,675.2 405,678.6 402.8,676.4 401.6,671.6 399.2,668 401.6,664.4Z" fill="#fff" stroke="#fff" stroke-width="1" stroke-linejoin="round"/>
<g stroke="#fff" stroke-width="1" stroke-linejoin="round">
<path d="M418.2,294.6 426.8,295.1 435.5,295.5 444.2,296 453.7,296.3 463.3,296.6 472.9,296.8 482.5,297 492.1,297 492.6,298.1 500.5,301.9 502.3,299.8 504.5,300.3 511.8,300.2 519.9,304 521,307 523.8,307.5 526.7,316.8 528.9,318.2 530,321.8 529.1,324.4 529.6,327.2 532.4,329 532.4,334.3 534.1,338.9 533.3,344.3 535.2,347 538.8,353.7 542.9,359.1 532.3,359.4 521.8,359.6 511.2,359.7 500.6,359.7 490,359.7 479.5,359.6 468.9,359.4 458.3,359.1 447.7,358.8 437.2,358.4 434.8,358.3 435.3,347.8 435.8,337.3 425.2,336.8 414.7,336.2 404.2,335.6 405.2,321.7 406.1,307.8 407,293.9 412.6,294.2Z" fill="url(#hatch)"/>
<path d="M205.7,287.1 214.8,289.1 223.9,290.9 233.1,292.7 242.2,294.4 251.3,296.1 249,309 246.7,321.8 244.4,334.7 242.2,347.6 239.9,360.4 237.6,373.3 235.3,386.2 233,399 231.5,407.3 230,415.6 227.7,418.8 226,418.6 224.5,415.8 218.2,415.5 217,427.7 217.6,431.9 217.3,435.8 215.8,438.4 207.4,426.5 199.2,414.6 190,401.4 183.6,392.4 177.4,383.4 169.5,372.2 161.8,361 153.6,349.4 145.6,337.8 148.8,325 152,312.1 154.9,300.4 157.7,288.7 160.6,277 170.4,279.4 180.3,281.8 188.8,283.6 197.3,285.4Z" fill="url(#hatch)"/>
<path d="M892.7,190.9 897.3,203.5 901.8,216.5 906.3,229.5 909.3,231 909.6,233.1 911.8,234 911.3,238.2 909.7,238.3 906.4,241.5 905.3,243.8 896.7,246 888,248.2 886.2,247 885.6,244 886.5,242.5 885.6,239.7 884.3,231 885.7,226.3 885.6,221.4 886.4,219.4 884.9,214.5 889.2,211.2 890.5,207.1 888.2,204.2 889.2,200.4 888.5,198.5 889,192.7 892.4,192.3Z" fill="url(#hatch)"/>
<path d="M862.2,206 863.5,210.1 863.7,214.1 866.1,217.3 866.7,221.3 866.2,225.8 869,231 868.6,232.9 871.9,235.5 875.2,249.5 875.9,251.3 875.9,265.5 876.5,266.2 878.1,273.9 879.7,281.7 881.2,283 878,286.3 879.8,288.3 886.7,288.2 887.7,286.6 893.3,285 895.9,283.6 899.7,279 900.7,281.2 903.4,281.5 898.7,286.1 893.4,290 888.1,293.8 883.4,296.1 880.1,296.8 877.9,298.4 875.7,295.5 875.9,289.1 870.1,287.6 861.9,285 860.9,283.7 858.5,284.2 854.9,281.5 854.5,278.4 852,276.5 850.9,276.9 848.6,274.6 839,276.9 829.5,279.2 820,281.5 810.5,283.6 800.9,285.7 791.3,287.8 781.7,289.8 780.7,284.6 780.6,284.3 788.7,276.5 789.6,273.4 792.2,270.9 790.3,267.7 788.9,267.2 786.8,261.8 795.1,257.6 802.9,256 806.1,255.9 809.9,257.4 811.9,256 818.3,254.6 821.9,252.3 825.2,247.6 827.8,246.8 826.5,241.3 827.1,237.7 823.3,236.3 823.4,233.6 828.4,228.7 829.8,225.2 835.1,216.7 840.8,211.6 850.7,209.6 856.4,207.8Z" fill="url(#hatch)"/>
<path d="M510.6,172.5 512.5,179 511.6,181.9 512.1,190.2 513.2,194.2 516.1,201.1 516.8,214.4 517.3,215.3 517.2,220.8 518.4,225.4 520.2,227.5 520.9,235.8 510.9,235.9 500.9,235.9 490.9,235.8 481,235.7 471,235.5 461,235.2 451,234.9 441,234.5 431.1,234 421.1,233.4 411.1,232.8 412,219.5 413,206.3 413.9,193.2 414.6,181.5 415.3,169.8 424.8,170.4 434.4,170.9 443.9,171.3 453.4,171.7 462.9,172 472.4,172.3 482,172.4 491.5,172.5 501,172.6Z" fill="url(#hatch)"/>
<path d="M280.2,300.9 288.8,302.2 297.4,303.4 295.9,313.8 294.4,324.1 304.8,325.6 315.3,327 325.7,328.3 324.1,341.3 322.5,354.2 320.9,367.2 319.8,376 318.6,384.8 318.6,387.1 317.2,399.3 315.7,411.4 307.6,410.3 299.6,409.3 291.6,408.1 281.8,406.8 272,405.4 262.2,403.9 252.5,402.3 242.7,400.7 233,399 235.3,386.2 237.6,373.3 239.9,360.4 242.2,347.6 244.4,334.7 246.7,321.8 249,309 251.3,296.1 260.9,297.8 270.5,299.4Z" fill="url(#hatch)"/>
<path d="M235.7,144.9 233,157.4 230.3,169.9 227.5,183.4 224.6,196.9 224.1,198.5 225.2,202.5 224.5,206.1 214.6,203.9 204.8,201.7 194.9,199.4 192.7,200.3 186.8,199.3 180.2,199.6 176.2,200.7 171.8,200.2 170.2,198.8 161.6,199.6 161.5,198.2 157.3,195.9 153.3,195.2 146.2,196.7 139.5,192.5 140.4,186.3 139.8,183.5 137.4,180.6 136,180.4 133.6,180.3 131.8,177.3 129.5,175.8 127.1,176.4 124.9,173.9 126.2,171.3 128.5,170.5 126.9,165.5 128.1,154.2 127.4,152.4 128.2,144.4 126.4,140.7 127,134.5 129.7,131 131.8,133.7 136.7,137.8 140.5,138.8 144,140.9 147.9,140.9 149.1,143.2 152.4,143.9 153.4,148.9 155.2,149.1 153.8,155 153.4,160.6 154.9,160.5 154.8,155.5 156.4,151.1 159.9,147.2 158.6,144.8 159.3,141.5 159,137.6 160.3,135.1 160.3,131.9 158.3,130.8 156.9,128 158,126 166.6,128.3 175.2,130.6 183.8,132.8 192.4,135 201,137.1 209.7,139.2 218.3,141.1 227,143.1Z" fill="url(#hatch)"/>
<path d="M166,583 172.6,578.6 183.6,570.9 203.4,564.3 218.8,568.7 234.2,575.3 249.6,579.7 251.8,616 254,655.6 260.6,661.1 267.2,664.4 276,672.1 287,679.8 293.6,686.4 301.3,693 306.8,701.8 301.3,704 295.8,701.8 289.2,693 280.4,684.2 273.8,676.5 265,669.9 254,665.5 243,662.6 233.1,660 229.8,656.7 223.2,660 214.4,655.6 212.2,660 214.4,664.4 210,669.9 203.4,673.2 199,672.1 202.3,666.6 205.6,661.1 200.1,664.4 196.8,673.2 197.9,682 188,687.5 183.6,690.8 174.8,694.1 166,697.4 155,701.8 144,704.4 133,708.8 122,711.7 113.2,713.9 104.4,714.6 113.2,712.4 126.4,708.8 139.6,704 150.6,699.6 163.8,694.1 174.8,687.5 180.3,680.9 177,673.2 170.4,675.4 166,672.1 163.8,666.6 156.1,661.1 147.3,658.9 146.2,656.7 153.9,653.4 155,649 152.8,646.8 158.3,641.3 166,634.7 173.7,627 177,622.6 168.2,623.7 159.4,621.5 153.9,613.8 156.1,609.8 166,609.4 175.9,606.1 177,602.8 172.6,597.3 167.1,590.7 163.8,587.4ZM135.2,624.8 139.2,623.7 144,627.4 145.1,629.6 140.7,630.3 137.4,627.4ZM196.8,687.5 203.4,684.2 205.6,686.4 201.2,690.8 196.8,690.8Z" fill="url(#hatchAK)"/>
<path d="M682,453.8 691.9,452.7 701.9,451.5 711.8,450.3 714.6,459 717.3,467.7 721.2,480.5 725.2,493.3 728,498.7 730.4,501.7 729.9,503.9 732.1,504.8 729.5,507.8 730,510.4 728.9,514.1 731.6,520.1 731.1,525.7 733.8,531 725,532.4 715.6,533.6 706.2,534.9 696.7,536 687.3,537.1 687,539.9 691.5,543.4 691.2,546.8 692.8,548.4 690.5,551.7 688.1,552.7 683.1,549.8 682.1,544.8 680.6,544.4 679.4,548.4 679.2,552.2 674.4,551.7 672.8,541.2 671.3,530.7 669.7,520.3 669.7,507 669.7,493.7 669.6,480.5 669.6,469 669.6,457.5 667.6,455.5 674.8,454.7Z" fill="#76a4d0"/>
<path d="M315.7,411.4 314.1,424.5 312.5,437.5 310.9,450.6 309.3,463.7 307.7,476.7 306.1,489.8 304.5,502.8 302.9,515.8 301.3,528.8 289.3,527.3 277.2,525.7 265.2,524 255.3,518.6 245.5,513.2 234.8,507.3 224.2,501.4 213.6,495.4 203.2,489.3 205.6,485 209.2,484.8 210.5,483.2 210.2,479.2 207.9,478.7 208.1,470.8 212.2,468.5 213.2,465.6 213.4,460.6 216.1,457.4 219.1,456.6 221.6,454.2 218.8,450.7 217.5,444.9 215.3,441 215.8,438.4 217.3,435.8 217.6,431.9 217,427.7 218.2,415.5 224.5,415.8 226,418.6 227.7,418.8 230,415.6 231.5,407.3 233,399 242.7,400.7 252.5,402.3 262.2,403.9 272,405.4 281.8,406.8 291.6,408.1 299.6,409.3 307.6,410.3Z" fill="#a2cae3"/>
<path d="M559,431.8 569.4,431.4 579.8,430.9 590.1,430.4 600.5,429.8 610.9,429.1 621.2,428.3 631.6,427.5 633.4,431.3 631,434.1 628.7,438.2 639.6,437.2 639.4,441.1 637,442.5 636.7,445.7 633.8,449.4 634.6,454.4 633.2,458.2 631.6,458.9 632.7,460.7 630.1,462.5 629.2,466.1 627.5,467.2 628.1,471.3 625.1,472.7 625.3,474 622,477.7 623.2,479.9 620.3,483.5 618,490.1 621.3,492.6 619.9,494.4 621.2,498.6 620,501.6 609.3,502.3 598.5,502.9 587.8,503.4 577,503.9 569.4,504.2 569,493.2 566.4,492.4 563,493.5 561.1,491.6 561,479.4 560.8,467.2 560.7,454.9 558.6,443.4 556.6,431.9Z" fill="#6a97ca"/>
<path d="M112,263.9 118.4,265.6 124.9,267.3 134.9,270.2 145,273 152.8,275 160.6,277 157.7,288.7 154.9,300.4 152,312.1 148.8,325 145.6,337.8 153.6,349.4 161.8,361 169.5,372.2 177.4,383.4 183.6,392.4 190,401.4 199.2,414.6 207.4,426.5 215.8,438.4 215.3,441 217.5,444.9 218.8,450.7 221.6,454.2 219.1,456.6 216.1,457.4 213.4,460.6 213.2,465.6 212.2,468.5 208.1,470.8 207.9,478.7 210.2,479.2 210.5,483.2 209.2,484.8 205.6,485 193.9,483.8 182.2,482.5 172.7,481.4 163.1,480.4 161.6,477.3 162.4,473 162.2,467.7 160.5,463.6 156.2,457.5 150.4,451.4 148.9,452.4 146.4,451 147.2,449.1 145.2,444.3 141,444.2 134.7,439.6 134.2,436.9 130.2,432.8 124.9,431.6 120.8,429.2 115.1,428.3 112.8,424.9 114.9,419.4 114.1,418.3 115.7,414.5 112.1,410.4 113,406.2 111.4,405.6 109.6,401.3 107.9,400.1 107.7,397.6 103.6,387.7 101.3,384.5 102.4,377.8 103.5,378.6 105.7,375.1 104.4,370.9 101.4,370.6 98.6,366.4 97.9,363.5 98.9,361.1 97.9,357.4 99.4,352.1 102.3,352.9 103.1,345.2 101.6,345.6 100.4,349.2 97,349.1 94,345.3 94.8,340.4 93.4,335.9 90.9,332.7 89.9,329.6 86.8,323.1 88,321.7 87.8,314.4 89.8,310.9 90.1,304.9 87.7,298.3 84.8,294 85.1,290.2 91.5,282.5 93.1,279.8 93.1,277.3 96.3,271.6 96.6,265.8 95.4,264 97.3,259.8 104.7,261.8Z" fill="#6a97ca"/>
<path d="M343.4,330.2 352,331.2 360.6,332.1 369.2,332.9 377.8,333.7 386.6,334.4 395.4,335 404.2,335.6 414.7,336.2 425.2,336.8 435.8,337.3 435.3,347.8 434.8,358.3 434.3,370.8 433.8,383.4 433.2,396 432.7,408.6 432.2,421.2 424.2,420.7 416.2,420.2 405.1,419.6 393.9,419 383.4,418.2 372.8,417.4 362.3,416.4 351.8,415.5 342.6,414.4 333.6,413.5 324.7,412.4 315.7,411.4 317.2,399.3 318.6,387.1 318.6,384.8 319.8,376 320.9,367.2 322.5,354.2 324.1,341.3 325.7,328.3 334.5,329.3Z" fill="#8ab6d8"/>
<path d="M883,264.6 892.4,262.1 901.9,259.5 902,259.9 905.5,271.7 905.1,273.9 903.7,273.9 897.5,277.4 889.5,279.2 886.9,282.9 883.5,284.8 879.8,288.3 878,286.3 881.2,283 879.7,281.7 878.1,273.9 876.5,266.2Z" fill="#e1e9f5"/>
<path d="M858.9,319.3 858.1,322.2 856.8,323.9 858,327 861,329.5 862.9,334.3 867.6,338.7 869.2,338.5 871.7,345.3 861.4,347.7 857.5,335.1 853.6,322.5 855.6,319.6Z" fill="#a4cae5"/>
<path d="M725,532.4 733.8,531 737.1,536.6 746.3,536 755.4,535.3 765.3,534.2 775.2,533.1 785.1,532 786.8,536.2 788.9,535.7 789,531.4 787.6,527.8 789,525.9 793.4,526.8 798.4,526.7 801.1,535.4 805.2,544.9 812.9,556.9 823.6,569.3 822.6,570.5 824.3,576.9 829.1,583.4 833.2,590.1 837.3,596.8 839.4,601.1 840.2,605.8 840.8,614.3 841.4,622.8 839.7,623.5 838.9,629 839.8,630.6 836.9,635 835.3,634.4 832,636.6 826.1,638.7 824,636.9 824.2,633.7 818.3,625.5 814.7,624.5 812,626.2 808.8,621.6 807.5,617.7 802.8,613.8 801.3,611 801.2,606.6 798.9,606.2 799.8,608.6 798,609.6 790.2,599.7 787.4,597.3 791.6,588.2 788,589.3 786,592.3 782.9,588.7 784.2,577 783.3,567.6 780.7,565.8 779.5,562.9 775.9,562.8 771,558.5 767.4,557.1 766.7,554.1 764.2,553.3 761.8,550.2 754.2,546.8 748.3,548.8 749.1,551.9 747,551.6 740,556.5 732.1,558.6 731.9,556.3 729.7,553.9 719.4,549.1 712.4,547.4 706.2,547.4 701.2,548.5 690.5,551.7 692.8,548.4 691.2,546.8 691.5,543.4 687,539.9 687.3,537.1 696.7,536 706.2,534.9 715.6,533.6Z" fill="#5587c2"/>
<path d="M754.2,443.6 751.3,448.6 751.4,450.8 757.8,454.3 759.5,453.7 762.9,457.7 763.8,460 767.3,463.8 771.7,465.7 774.6,469.2 779.8,471.9 780,474.3 783.8,477.5 789,479.8 790.7,483 791.7,487.3 794.4,488.4 798.2,493.3 798.9,496.8 803.3,497.8 800.3,505.6 800.1,509.3 798.9,512.8 799.3,516.1 797.6,517.9 798.4,526.7 793.4,526.8 789,525.9 787.6,527.8 789,531.4 788.9,535.7 786.8,536.2 785.1,532 773.5,533.2 761.9,534.3 749.5,535.5 737.1,536.6 733.8,531 731.1,525.7 731.6,520.1 728.9,514.1 730,510.4 729.5,507.8 732.1,504.8 729.9,503.9 730.4,501.7 728,498.7 725.2,493.3 721.2,480.5 717.3,467.7 714.6,459 711.8,450.3 722.8,448.8 733.7,447.1 739.7,446.2 745.6,445.4Z" fill="#6e9bce"/>
<path d="M249.2,147.7 247.1,158 245.1,168.4 248.5,174.9 247.4,180.5 249.7,183.5 252.3,184.9 252.4,186.4 256.6,192.9 256.8,195.2 260.2,198 260.1,199.4 264.2,200.1 260.8,207.3 259.6,212 260.5,215.4 257.5,217.2 258.1,219.5 257,221.6 259.7,224.3 263.8,222.1 265.6,220.2 267.9,222.6 267.2,224.2 267.9,228.4 269.6,233 271.1,234.7 270.4,238.7 271.8,240.6 274.8,241.4 275.7,248.3 277.2,249.7 279,248.1 283.6,248.9 287.3,247.7 289.2,249 292.8,248.6 293.4,249.9 296.5,249.6 300.5,245.8 302.4,249.7 304.7,252.3 302.9,265 301.1,277.8 299.2,290.6 297.4,303.4 288.8,302.2 280.2,300.9 270.5,299.4 260.9,297.8 251.3,296.1 242.2,294.4 233.1,292.7 223.9,290.9 214.8,289.1 205.7,287.1 208.4,274.7 211,262.2 213.6,249.8 217,243.5 216.1,241.6 213.4,240.6 212.9,237.6 217.4,231 219.1,230.6 221.3,227.9 221.4,226 223.6,223.9 225.2,220.5 229.5,215.1 228.8,212.1 225.8,209.9 224.5,206.1 225.2,202.5 224.1,198.5 224.6,196.9 227.5,183.4 230.3,169.9 232.9,157.4 235.6,144.9 242.4,146.3Z" fill="#a0c8e4"/>
<path d="M613.3,302.7 622.8,302 632.3,301.3 641.8,300.5 649.4,299.7 657,298.9 656.9,302.9 659.8,307.3 663.1,314.6 664.5,326.9 665.9,339.2 667.3,351.4 668.7,363.7 667.4,367.7 669.9,371.9 670.6,375.5 668.9,378.7 668.7,381.5 666.2,386.3 664.4,386.8 665.1,389.4 664,390.5 663.5,395.6 664.2,396.9 662.4,400.1 664.3,403.5 657.7,406.2 657.3,408.4 659.1,411 657.2,412.9 650.8,410.4 648.9,410.8 646.7,414.7 647.7,415.7 645,415.8 640.7,410.2 642,408.7 640.2,404.8 639.9,401.6 634.2,397.7 632.4,398.3 630.4,395.7 625.2,391.9 625,388.6 627.3,382.9 626.7,381 628.1,378.4 625.7,377.1 622,376.5 620.3,378.6 619,377.4 617.4,370.7 611.6,366.6 606.3,361.6 603.8,355.3 603.4,351.1 604.5,348.1 604.5,344.3 608.8,341.7 609,338.4 610.9,336.2 610.9,332.5 608.1,329.8 608.8,326 614.8,324.5 619.5,321.5 619.7,318.3 621.7,316.7 621.9,312.7 621.3,310.1 617.6,308.3 617,306.2Z" fill="#1f66a9"/>
<path d="M686.8,310.7 696,309.4 705.1,308.1 705.3,309.5 707.1,321.9 709,334.2 710.9,348.7 712.9,363.2 711.8,364.3 713.9,369.7 711.1,370.3 708.4,372.6 704.1,372.3 704.9,376.4 702.3,378.4 701.6,381.2 698.9,382.6 698.1,388 696.4,389.6 692.5,388.2 691.5,385.9 688.3,389 688.8,391.2 685.3,392.5 683.9,390.5 680.1,393.1 679,395.4 674.5,392.8 672.4,393.8 670.8,392.4 669.6,394.1 665.5,394.8 664.2,396.9 663.5,395.6 664,390.5 665.1,389.4 664.4,386.8 666.2,386.3 668.7,381.5 668.9,378.7 670.6,375.5 669.9,371.9 667.4,367.7 668.7,363.7 667.3,351.4 665.9,339.2 664.5,326.9 663.1,314.6 664.8,315.8 669.6,315.3 673.9,312.3 680.3,311.5Z" fill="#bed8ea"/>
<path d="M600.6,282.9 602.9,282.7 603.3,285.8 605.7,287.7 604.1,290.3 604.9,295 606.4,298.2 612,300.2 613.3,302.7 617,306.2 617.6,308.3 621.3,310.1 621.9,312.7 621.7,316.7 619.7,318.3 619.5,321.5 614.8,324.5 608.8,326 608.1,329.8 610.9,332.5 610.9,336.2 609,338.4 608.8,341.7 604.5,344.3 604.5,348.1 602.8,347.5 599.2,343.5 597.6,343.7 590.1,344.4 582.6,345 575.1,345.6 564.2,346.3 553.2,346.8 544.2,346.9 535.2,347 533.3,344.3 534.1,338.9 532.4,334.3 532.4,329 529.6,327.2 529.1,324.4 530,321.8 528.9,318.2 526.7,316.8 523.8,307.5 520.8,303 522.1,299.9 522.6,295.7 523.7,294.2 521.8,292.2 522.2,288.5 521.3,286.8 523.3,286.4 533,286.2 542.7,285.9 552.3,285.6 562,285.2 571.7,284.7 581.3,284.2 591,283.6Z" fill="#84afd8"/>
<path d="M437.2,358.4 447.7,358.8 458.3,359.1 468.9,359.4 479.5,359.6 490,359.7 500.6,359.7 511.2,359.7 521.8,359.6 532.3,359.4 542.9,359.1 544.5,361 549.8,362.4 546.4,368.6 548.5,370.6 551.2,375.5 554.7,376.4 555.1,387.7 555.5,398.9 555.9,410.2 556.3,421.5 544.8,421.9 533.4,422.2 522,422.4 510.6,422.5 499.1,422.5 487.7,422.5 476.3,422.4 464.9,422.1 454,421.9 443.1,421.6 432.2,421.2 432.7,408.6 433.2,396 433.8,383.4 434.3,370.8 434.8,358.3Z" fill="#76a4d0"/>
<path d="M728.7,367.9 732.7,370.2 735,368.3 741.4,368.9 742.8,366.6 745,365.5 746.3,368.9 748.2,369.1 750.9,371.6 751.5,377.9 754.2,381.5 757.3,384.1 758.5,386.3 762,388.2 764.2,388.1 758.9,394.8 753.4,398.8 753.7,400.4 751.5,402.2 751.6,404 748.6,405.3 747.8,407.8 739.4,412.2 739.2,412.5 732.1,413.5 725,414.5 718.7,415 712.5,415.6 709.3,416.3 700,417.1 690.7,417.9 680.3,419.4 669.8,420.8 666,420.3 666.7,424 656.3,425 645.9,425.9 643.9,426.3 644.6,423.6 647.1,424.3 647.7,415.7 646.7,414.7 648.9,410.8 650.8,410.4 657.2,412.9 659.1,411 657.3,408.4 657.7,406.2 664.3,403.5 662.4,400.1 664.2,396.9 665.5,394.8 669.6,394.1 670.8,392.4 672.4,393.8 674.5,392.8 679,395.4 680.1,393.1 683.9,390.5 685.3,392.5 688.8,391.2 688.3,389 691.5,385.9 692.5,388.2 696.4,389.6 698.1,388 698.9,382.6 701.6,381.2 702.3,378.4 704.9,376.4 704.1,372.3 708.4,372.6 711.1,370.3 713.9,369.7 711.8,364.3 712.9,363.2 719.1,362.3 723,366.1 723.5,367.9Z" fill="#a2cae3"/>
<path d="M577,503.9 587.8,503.4 598.5,502.9 609.3,502.3 620,501.6 621.8,503.9 620.7,504.9 620.8,509.1 623.6,511.5 624.4,517.6 622.7,522.5 618.7,525.8 618,530.5 616.2,530.2 616.4,537.8 614.3,538.2 615.8,542.2 614.6,543.8 626,542.9 637.3,542 648.7,541.1 647.5,548 650.9,552.3 651.9,555.6 654.3,557.5 649.2,560.9 648.9,562.9 653.5,563.9 655.1,560.4 659.2,563.4 659.1,566 657,567.3 652.8,566.7 653.5,568.6 652.4,571.6 656.1,573.9 661.8,574.1 664.1,577 665.8,577.3 663.2,581.1 659.9,580.7 656.8,577.3 649.9,576 649.6,572.5 646.4,574 646.8,576.9 645.6,579.7 643.2,580.4 641.1,577.5 636.9,577.7 635.6,581 632.8,582.1 629.7,580.5 627.2,580.4 624.5,575.5 620.2,573.5 618.7,574 616.7,569.8 612,570.7 611.7,568.1 607.1,570.9 607.9,572.8 604.4,574.8 598.7,574.3 592,571.8 587.3,570.8 577.4,572.3 576.1,573.2 574.4,571.2 578.4,563.6 576.8,559.7 578,557.5 577.3,554.7 579,552.5 580.6,547 580.1,542.6 574.8,534.4 574.5,529.9 570.4,525.5 569.9,514.9 569.4,504.2Z" fill="#7eabd3"/>
<path d="M911.8,234 909.6,233.1 909.3,231 906.3,229.5 901.8,216.5 897.3,203.5 892.7,190.9 898,186.3 896.6,185.2 898,181.4 899.9,179.3 899.1,178.2 900.7,175.7 899,172.4 898.7,166.8 900.3,164.4 899.4,158.6 902.3,149.3 905.1,140.1 907.8,139.9 909.2,143.5 911.4,144.2 915.1,140.6 917.8,139.7 919.3,137.7 924.2,139.5 927.3,141.3 931.1,152.3 935,163.3 936.5,168.6 941.8,168.4 941.9,170.9 943.8,172.6 943.5,174.9 946.5,177.2 948.9,175.6 953.9,181.7 952.1,185.9 950,185.3 949.3,187.9 947.1,188.1 947.5,190 944.8,190.7 942,196.3 940,193.8 938.5,194.1 940.3,197 937.5,199.6 935.9,197.3 934.7,199.2 931.1,200.4 930,197.5 928,198.9 929.1,200.8 928.5,205.8 929.3,206.9 927.4,210.1 924.4,210.1 923.7,213.1 921.5,214.2 920.4,216.8 918,217.1 916.7,215.1 914.6,219.6 916.1,221.5 914,223 914.4,224.9 912.4,228.1Z" fill="#437dbb"/>
<path d="M795.6,335.6 805.3,333.5 815,331.5 824.7,329.3 834.3,327.1 843.9,324.8 853.6,322.5 857.5,335.1 861.4,347.7 871.7,345.3 870.7,354.7 868.4,355.6 864.3,358 861.1,359.7 860.4,356.3 858.7,355.3 860.2,353.4 856.9,350.7 856.5,352.3 853.1,352.8 851.1,349.4 852.1,349.1 851,344.3 851.6,342.2 848.7,336.1 849.5,331.8 852,330.5 851.5,326.5 849.6,327.5 850,329.5 846.5,333 845.8,335.7 847,341.6 846.1,344.8 847.9,349.3 850.8,352.1 851.1,354.6 853,356.7 852.7,358.6 848.3,356.2 842.7,355.9 840.3,353.1 837.8,355.6 836.1,353.4 837.7,349.7 838.4,346.2 839.9,343.6 837.5,342 836.5,343.5 833.9,342.1 830.4,341.9 829.7,338.9 827.6,337.6 825.1,337.8 822,332.5 819.4,333.1 816.3,331.8 815.2,333.7 812.5,334.1 812.4,336.5 807.4,336 805,339.7 802.8,339.5 800.4,343.6 797.6,346.2Z" fill="#a8cce6"/>
<path d="M909.7,238.3 911.3,238.2 912.9,241.5 913.1,244.6 911.6,247.9 912.5,251 915.8,250.4 918.8,253 919.2,255.6 921,255.8 921.9,258 926.7,258.7 929.8,256.1 928.2,253.1 925.6,252.2 925.5,251.1 927.7,251.1 930.2,253.6 931.8,257.9 930.7,258.4 924.4,263 921.8,264 919.6,262.6 917.3,263.9 917.7,265.3 915.2,267 912.9,263.8 912.3,263.2 910.3,262.3 908.1,257.8 905.9,258.5 902,259.9 901.9,259.5 892.4,262.1 883,264.6 876.5,266.2 875.9,265.5 875.9,251.3 881.9,249.7 888,248.2 896.7,246 905.3,243.8 906.4,241.5Z" fill="#1f5291"/>
<path d="M586.5,217.1 585.3,216.3 582.5,218.2 583.2,230.4 582.4,231.7 578.4,233.7 575.2,238.3 575.2,241.2 576.9,241.4 578.9,243.9 577.4,247.2 577.9,250.7 577.3,258.3 581.4,261.9 584.5,262 586.2,264.2 591,266.2 591.9,268.9 596.4,272.1 598.9,272.7 602.1,277.1 601.9,280.4 602.9,282.7 600.6,282.9 591,283.6 581.3,284.2 571.7,284.7 562,285.2 552.3,285.6 542.7,285.9 533,286.2 523.3,286.4 523.1,273.9 522.9,261.4 522.7,248.9 519.3,246.6 516.6,242.7 520.6,238.2 520.9,235.8 520.2,227.5 518.4,225.4 517.2,220.8 517.3,215.3 516.8,214.4 516.1,201.1 513.2,194.2 512.1,190.2 511.6,181.9 512.5,179 510.6,172.5 520.2,172.4 529.9,172.2 539.6,172 539.3,164.1 542.1,164.2 543.9,165.7 546.2,176.4 547.7,177.5 552.3,177.7 552.9,178.7 558.3,178.9 559,181.1 563.6,180.3 563.5,179.4 567.1,178.1 570.3,178.4 574,179.9 575.1,182 577.2,181.6 579.4,186.1 580.2,184.2 583.7,183 584.4,184.9 588.7,186 588.8,187.8 591,189.1 595.2,188 597.6,185.8 601,184.3 602.5,187.2 604.8,186.4 607.7,186.8 611,186.1 615.1,188.3 618.7,187.6 618.4,188.7 613.9,191.7 607.5,194.3 603.4,196.8 597.6,202.6 595.2,206 591.4,210.1 585.2,215.5Z" fill="#bbd8e9"/>
<path d="M663,456 667.6,455.5 669.6,457.5 669.6,469 669.6,480.5 669.7,493.7 669.7,507 669.7,520.3 671.3,530.7 672.8,541.2 674.4,551.7 672.5,552.8 668.1,552.8 666.2,551.6 661.9,552.9 656,555.9 654.3,557.5 651.9,555.6 650.9,552.3 647.5,548 648.7,541.1 637.3,542 626,542.9 614.6,543.8 615.8,542.2 614.3,538.2 616.4,537.8 616.2,530.2 618,530.5 618.7,525.8 622.7,522.5 624.4,517.6 623.6,511.5 620.8,509.1 620.7,504.9 621.8,503.9 620,501.6 621.2,498.6 619.9,494.4 621.3,492.6 618,490.1 620.3,483.5 623.2,479.9 622,477.7 625.3,474 625.1,472.7 628.1,471.3 627.5,467.2 629.2,466.1 630.1,462.5 632.7,460.7 631.6,458.9 642,458 652.5,457Z" fill="#a6cde5"/>
<path d="M597.6,343.7 599.2,343.5 602.8,347.5 604.5,348.1 603.4,351.1 603.8,355.3 606.3,361.6 611.6,366.6 617.4,370.7 619,377.4 620.3,378.6 622,376.5 625.7,377.1 628.1,378.4 626.7,381 627.3,382.9 625,388.6 625.2,391.9 630.4,395.7 632.4,398.3 634.2,397.7 639.9,401.6 640.2,404.8 642,408.7 640.7,410.2 645,415.8 647.7,415.7 647.1,424.3 644.6,423.6 643.9,426.3 642.8,426.5 641.9,426.5 642.4,431.7 639.6,437.2 628.7,438.2 631,434.1 633.4,431.3 631.6,427.5 621.2,428.3 610.9,429.1 600.5,429.8 590.1,430.4 579.8,430.9 569.4,431.4 559,431.8 556.6,431.9 556.3,421.5 555.9,410.2 555.5,398.9 555.1,387.7 554.7,376.4 551.2,375.5 548.5,370.6 546.4,368.6 549.8,362.4 544.5,361 542.9,359.1 538.8,353.7 535.2,347 544.2,346.9 553.2,346.8 564.2,346.3 575.1,345.6 582.6,345 590.1,344.4Z" fill="#78a6d1"/>
<path d="M415.3,169.8 414.6,181.5 413.9,193.2 413,206.3 412,219.5 411.1,232.8 410.5,242.6 409.9,252.4 409.7,252.4 400.5,251.7 391.3,251 382.1,250.2 372.8,249.3 363.4,248.4 354,247.4 344.6,246.4 335.3,245.3 325.6,244.1 315.9,242.8 306.2,241.4 304.7,252.3 302.4,249.7 300.5,245.8 296.5,249.6 293.4,249.9 292.8,248.6 289.2,249 287.3,247.7 283.6,248.9 279,248.1 277.2,249.7 275.7,248.3 274.8,241.4 271.8,240.6 270.4,238.7 271.1,234.7 269.6,233 267.9,228.4 267.2,224.2 267.9,222.6 265.6,220.2 263.8,222.1 259.7,224.3 257,221.6 258.1,219.5 257.5,217.2 260.5,215.4 259.6,212 260.8,207.3 264.2,200.1 260.1,199.4 260.2,198 256.8,195.2 256.6,192.9 252.4,186.4 252.3,184.9 249.7,183.5 247.4,180.5 248.5,174.9 245.1,168.4 247.1,158 249.2,147.7 258.1,149.5 267,151.2 275.9,152.8 284.9,154.4 293.8,155.9 302.8,157.4 311.8,158.7 321.2,160.1 330.7,161.3 340.1,162.5 349.5,163.7 358.9,164.8 368.3,165.8 377.7,166.7 387.1,167.6 396.5,168.4 405.9,169.1Z" fill="#1e3c6c"/>
<path d="M870.1,287.6 875.9,289.1 875.7,295.5 873.5,297.5 873,300.9 877.6,301.3 878.6,303.6 879.6,314.9 876.9,324.3 874.3,327.5 872.8,333.3 870.5,330.4 865.5,329.9 858.8,326.8 857.7,323.9 857.5,323.5 858.1,322.2 858.9,319.3 862.7,316.6 862.6,315 866.5,310.5 866.8,308.5 861.3,305.5 860.5,303 858.4,302.8 857.6,300.5 859.1,296.4 857.3,294.6 860,289.4 860.3,287 861.9,285Z" fill="#bcd7e9"/>
<path d="M342.6,414.4 351.8,415.5 362.3,416.4 372.8,417.4 383.4,418.2 393.9,419 405.1,419.6 416.2,420.2 415.6,430.7 415,430.6 414.3,443.6 413.5,456.6 412.8,469.5 412,482.5 411.3,493 410.5,503.6 409.9,514 409.3,524.4 398.8,523.8 388.2,523.1 377.7,522.3 367.2,521.5 356.7,520.6 346.2,519.7 345.5,521.7 347.3,524.2 337.3,523.3 327.3,522.2 317.4,521.1 316.3,530.5 308.8,529.7 301.3,528.8 302.9,515.8 304.5,502.8 306.1,489.8 307.7,476.7 309.3,463.7 310.9,450.6 312.5,437.5 314.1,424.5 315.7,411.4 324.7,412.4 333.6,413.5Z" fill="#6e9bce"/>
<path d="M784.2,405.2 795.5,403.4 802,402.2 808.5,400.9 818.5,398.8 828.4,396.6 838.4,394.4 848.3,392.1 858.2,389.7 868.2,387.2 872,394.9 867.3,395.2 866.9,396.4 861.6,399 861.1,400.3 857.4,401.5 858,402.9 862.2,400.8 863.1,401.6 867.8,399.4 869.9,400.8 872.7,399.3 874,400.1 874.5,406.5 872.6,407.3 869.7,413.3 864.2,414.8 864.1,418.5 867.3,421.4 869.4,421.6 867.1,428.1 864,428.2 858.8,430 855.4,432.1 850.4,437.3 847,443.5 846,450.5 842.1,449.8 836.3,452.5 824.6,444.8 813,437.1 803.5,438.8 794,440.4 793.8,438 790.5,435 789,436.6 788.5,434.5 778.1,435.9 767.6,437.2 763.1,438.8 759.8,441.3 754.2,443.6 745.6,445.4 739.7,446.2 733.7,447.1 733.4,442.2 736.7,441.2 737.5,437.6 741.2,433.9 745.7,433.1 749.4,429.2 753.5,427.4 756.4,422.2 758.5,420.4 759.3,422.4 765.2,417.3 768.3,417.6 769.7,413.3 772.6,411.8 772.5,406.8 778.3,406Z" fill="#a0c6e3"/>
<path d="M770.3,292.5 772.9,306.3 775.6,320 773.5,321.6 775,323.6 775.6,326.8 774.4,332.2 774.3,340 769.4,347.8 767.6,349.1 765.6,348 764.3,351.3 762.4,351.5 761.1,355.8 762,358.1 760.7,360.3 757.8,357.6 755.6,363.1 757,366.1 755.2,367.6 755.1,370.4 750.9,371.6 748.2,369.1 746.3,368.9 745,365.5 742.8,366.6 741.4,368.9 735,368.3 732.7,370.2 728.7,367.9 723.5,367.9 723,366.1 719.1,362.3 712.9,363.2 710.9,348.7 709,334.2 707.1,321.9 705.3,309.5 715.7,307.5 726.1,305.5 732.5,307.4 734.9,308.7 736.1,306.9 740,309.6 742.3,310.3 749.1,306.3 753.4,306.1 757.3,301.5 763.2,296.5Z" fill="#87b3d9"/>
<path d="M464.9,422.1 476.3,422.4 487.7,422.5 499.1,422.5 510.6,422.5 522,422.4 533.4,422.2 544.8,421.9 556.3,421.5 556.6,431.9 558.6,443.4 560.7,454.9 560.8,467.2 561,479.4 561.1,491.6 554.4,489.6 552.6,487.3 548,485.4 546.9,487.2 542.4,487.2 541.5,486.1 537.4,488.3 535.7,487.2 532,488.3 528.6,491.5 527.2,489.7 523.6,488.3 519.7,488.4 518.5,486 514.1,490.7 512.7,488.1 510.7,488.9 509.1,487.2 505,485.6 502,488.4 500.7,485.5 498.2,485.2 496.8,482.9 493.4,481.9 491.2,483.9 489.8,482.2 486.4,482.4 482.6,480.5 479.1,480.7 477.9,476.7 472.4,476.3 470.3,477 466.5,472.9 465.2,473.1 465.5,459.6 465.8,446.1 466.1,432.6 455.9,432.3 445.8,432 435.6,431.6 425.6,431.2 415.6,430.7 416.2,420.2 424.2,420.7 432.2,421.2 443.1,421.6 454,421.9Z" fill="#5587c2"/>
<path d="M136,180.4 137.4,180.6 139.8,183.5 140.4,186.3 139.5,192.5 146.2,196.7 153.3,195.2 157.3,195.9 161.5,198.2 161.6,199.6 170.2,198.8 171.8,200.2 176.2,200.7 180.2,199.6 186.8,199.3 192.7,200.3 194.9,199.4 204.8,201.7 214.6,203.9 224.5,206.1 225.8,209.9 228.8,212.1 229.5,215.1 225.2,220.5 223.6,223.9 221.4,226 221.3,227.9 219.1,230.6 217.4,231 212.9,237.6 213.4,240.6 216.1,241.6 217,243.5 213.6,249.8 211,262.2 208.4,274.7 205.7,287.1 197.3,285.4 188.8,283.6 180.3,281.8 170.4,279.4 160.6,277 152.8,275 145,273 134.9,270.2 124.9,267.3 118.4,265.6 112,263.9 104.7,261.8 97.3,259.8 95.9,256.8 96.7,250 98.3,245.6 97.3,241.5 99.7,238.6 102.4,233.6 106.2,228.5 108.6,223.8 111.9,215.5 115.2,207.2 115.7,204.9 119.2,197.9 122.8,187.7 123.7,181.8 125.3,178.7 131.8,177.3 133.6,180.3Z" fill="#131a49"/>
<path d="M780.7,284.6 781.7,289.8 791.3,287.8 800.9,285.7 810.5,283.6 820,281.5 829.5,279.2 839,276.9 848.6,274.6 850.9,276.9 852,276.5 854.5,278.4 854.9,281.5 858.5,284.2 860.9,283.7 861.9,285 860.3,287 860,289.4 857.3,294.6 859.1,296.4 857.6,300.5 858.4,302.8 860.5,303 861.3,305.5 866.8,308.5 866.5,310.5 862.6,315 862.7,316.6 858.9,319.3 855.6,319.6 853.6,322.5 843.9,324.8 834.3,327.1 824.7,329.3 815,331.5 805.3,333.5 795.6,335.6 787.4,337.2 779.2,338.8 777.4,329.4 775.6,320 772.9,306.3 770.3,292.5 772.9,290.8 780.6,284.3Z" fill="#4880be"/>
<path d="M912.9,263.8 915.2,267 912.3,268.4ZM905.9,258.5 908.1,257.8 910.3,262.3 912.3,263.2 910.4,263.5 909.7,266.9 910.5,271.2 905.1,273.9 905.5,271.7 902,259.9Z" fill="#a2c9e5"/>
<path d="M759.8,441.3 763.1,438.8 767.6,437.2 778.1,435.9 788.5,434.5 789,436.6 790.5,435 793.8,438 794,440.4 803.5,438.8 813,437.1 824.6,444.8 836.3,452.5 833.5,454.1 830.5,458.3 827.9,464.3 828.2,468.7 825.9,472.7 822,473.5 821.7,476.1 818.2,479.6 816.5,483 813.1,484.9 809.8,488.8 809.7,490.3 806.4,492.7 803.3,497.8 798.9,496.8 798.2,493.3 794.4,488.4 791.7,487.3 790.7,483 789,479.8 783.8,477.5 780,474.3 779.8,471.9 774.6,469.2 771.7,465.7 767.3,463.8 763.8,460 762.9,457.7 759.5,453.7 757.8,454.3 751.4,450.8 751.3,448.6 754.2,443.6Z" fill="#a4cce4"/>
<path d="M411.1,232.8 421.1,233.4 431.1,234 441,234.5 451,234.9 461,235.2 471,235.5 481,235.7 490.9,235.8 500.9,235.9 510.9,235.9 520.9,235.8 520.6,238.2 516.6,242.7 519.3,246.6 522.7,248.9 522.9,261.4 523.1,273.9 523.3,286.4 521.3,286.8 522.2,288.5 521.8,292.2 523.7,294.2 522.6,295.7 522.1,299.9 520.8,303 523.8,307.5 521,307 519.9,304 511.8,300.2 504.5,300.3 502.3,299.8 500.5,301.9 492.6,298.1 492.1,297 482.5,297 472.9,296.8 463.3,296.6 453.7,296.3 444.2,296 435.5,295.5 426.8,295.1 418.2,294.6 412.6,294.2 407,293.9 407.9,280 408.8,266.2 409.7,252.4 409.9,252.4 410.5,242.6Z" fill="#7aa8d2"/>
<path d="M666.7,424 666,420.3 669.8,420.8 680.3,419.4 690.7,417.9 700,417.1 709.3,416.3 712.5,415.6 718.7,415 725,414.5 732.1,413.5 739.2,412.5 739.4,412.2 750.5,410.4 761.5,408.7 772.5,406.8 772.6,411.8 769.7,413.3 768.3,417.6 765.2,417.3 759.3,422.4 758.5,420.4 756.4,422.2 753.5,427.4 749.4,429.2 745.7,433.1 741.2,433.9 737.5,437.6 736.7,441.2 733.4,442.2 733.7,447.1 722.8,448.8 711.8,450.3 701.9,451.5 691.9,452.7 682,453.8 674.8,454.7 667.6,455.5 663,456 652.5,457 642,458 631.6,458.9 633.2,458.2 634.6,454.4 633.8,449.4 636.7,445.7 637,442.5 639.4,441.1 639.6,437.2 642.4,431.7 641.9,426.5 642.8,426.5 643.9,426.3 645.9,425.9 656.3,425Z" fill="#5b8cc4"/>
<path d="M435.6,431.6 445.8,432 455.9,432.3 466.1,432.6 465.8,446.1 465.5,459.6 465.2,473.1 466.5,472.9 470.3,477 472.4,476.3 477.9,476.7 479.1,480.7 482.6,480.5 486.4,482.4 489.8,482.2 491.2,483.9 493.4,481.9 496.8,482.9 498.2,485.2 500.7,485.5 502,488.4 505,485.6 509.1,487.2 510.7,488.9 512.7,488.1 514.1,490.7 518.5,486 519.7,488.4 523.6,488.3 527.2,489.7 528.6,491.5 532,488.3 535.7,487.2 537.4,488.3 541.5,486.1 542.4,487.2 546.9,487.2 548,485.4 552.6,487.3 554.4,489.6 561.1,491.6 563,493.5 566.4,492.4 569,493.2 569.4,504.2 569.9,514.9 570.4,525.5 574.5,529.9 574.8,534.4 580.1,542.6 580.6,547 579,552.5 577.3,554.7 578,557.5 576.8,559.7 578.4,563.6 574.4,571.2 576.1,573.2 571.4,573.8 564.1,577.6 559.6,580.6 563.1,573.5 557.5,572.6 555,578.9 556.9,582.4 550.6,588.4 544.3,593.7 536.9,597.4 529.5,600.9 526.7,595.5 524.9,602.4 521.2,607.2 517.5,612.8 513.8,612.8 511.9,618 511,624.1 509.2,625.2 510.7,634.4 514,643.6 515.6,651.6 511.2,654.1 506,650.2 495.8,649.6 487.2,645.9 478.7,642.1 475.5,633.3 472.3,624.8 471.2,618.6 465.8,614 460.4,605.2 456.7,603 453.2,595.5 450.3,586.3 445.3,581 437.3,572 426.3,571 420.5,569 413.8,571.6 409.9,579.5 404.3,587 401.6,586.3 395.3,582.6 389,578.9 380.3,571.6 377.3,562.9 374.1,551.2 365.8,545.4 356,533.1 349.5,525.2 347.3,524.2 345.5,521.7 346.2,519.7 356.7,520.6 367.2,521.5 377.7,522.3 388.2,523.1 398.8,523.8 409.3,524.4 409.9,514 410.5,503.6 411.3,493 412,482.5 412.8,469.5 413.5,456.6 414.3,443.6 415,430.6 415.6,430.7 425.6,431.2Z" fill="#5587c2"/>
<path d="M888.5,198.5 889.2,200.4 888.2,204.2 890.5,207.1 889.2,211.2 884.9,214.5 886.4,219.4 885.6,221.4 885.7,226.3 884.3,231 885.6,239.7 886.5,242.5 885.6,244 886.2,247 888,248.2 881.9,249.7 875.9,251.3 875.2,249.5 871.9,235.5 868.6,232.9 869,231 866.2,225.8 866.7,221.3 866.1,217.3 863.7,214.1 863.5,210.1 862.2,206 869.6,204 877,202 882.8,200.3Z" fill="#131a49"/>
<path d="M868.4,355.6 870.7,354.7 869.5,358.7 867.6,360.4 867.5,365.4 866,373.8 863.6,376.1 862,373.5 861.9,366.9 864.3,358ZM739.4,412.2 747.8,407.8 748.6,405.3 751.6,404 751.5,402.2 753.7,400.4 753.4,398.8 758.9,394.8 764.2,388.1 764.3,389.9 767.1,393 770.2,394.2 772.3,393.7 774.9,390.4 777.5,392.1 781.5,390.2 788.2,384.9 789.1,386 791.6,383.6 790.9,379.9 792.1,376.3 794.5,372.6 795,368.7 797.4,364.2 797.7,359.3 801,361.5 803.8,361.9 805.1,359.8 807,351.8 809.4,353.2 815,343.3 814.5,337.1 824.3,342.1 825.1,337.8 827.6,337.6 829.7,338.9 830.4,341.9 833.9,342.1 836.5,343.5 838.4,346.2 837.7,349.7 836,351.1 835.5,354.3 836.6,356.2 840.8,354.5 842.3,357.6 848.2,357.6 850.4,359.8 855.6,361.5 854.9,367.7 857.9,371.7 856.2,374.4 856.5,377 858.9,378 857.3,381 853.1,378.6 852.6,379.9 856.1,381.6 864.2,380.2 868.2,387.2 858.2,389.7 848.3,392.1 838.4,394.4 828.4,396.6 818.5,398.8 808.5,400.9 802,402.2 795.5,403.4 784.2,405.2 778.3,406 772.5,406.8 761.5,408.7 750.5,410.4Z" fill="#6a97ca"/>
<path d="M775.6,320 777.4,329.4 779.2,338.8 787.4,337.2 795.6,335.6 797.6,346.2 800.4,343.6 802.8,339.5 805,339.7 807.4,336 812.4,336.5 812.5,334.1 815.2,333.7 816.3,331.8 819.4,333.1 822,332.5 825.1,337.8 824.3,342.1 814.5,337.1 815,343.3 809.4,353.2 807,351.8 805.1,359.8 803.8,361.9 801,361.5 797.7,359.3 797.4,364.2 795,368.7 794.5,372.6 792.1,376.3 790.9,379.9 791.6,383.6 789.1,386 788.2,384.9 781.5,390.2 777.5,392.1 774.9,390.4 772.3,393.7 770.2,394.2 767.1,393 764.3,389.9 764.2,388.1 762,388.2 758.5,386.3 757.3,384.1 754.2,381.5 751.5,377.9 750.9,371.6 755.1,370.4 755.2,367.6 757,366.1 755.6,363.1 757.8,357.6 760.7,360.3 762,358.1 761.1,355.8 762.4,351.5 764.3,351.3 765.6,348 767.6,349.1 769.4,347.8 774.3,340 774.4,332.2 775.6,326.8 775,323.6 773.5,321.6Z" fill="#182b5b"/>
<path d="M609.8,218.2 612.6,219.2 614.5,222.6 622.2,224 629.8,225.4 636.4,227.9 638.2,227 644.7,228.4 646.6,230.8 649.9,232.9 650.2,236.6 649.1,239.5 652.7,239.6 651.6,242.7 654.1,244.6 653.8,247.1 651.1,247.9 649.1,252.9 648.6,256.3 650.4,256.7 652.4,254.3 654.4,249.9 657.3,248 659.1,242.5 662,241 662.1,243.8 660.3,246.5 657.2,255.6 656.6,260.5 657.1,263.9 655.6,265.2 654.8,270 655.7,273.9 654.7,276.7 653.6,283.4 654.6,288.4 656.9,292.8 657,298.9 649.4,299.7 641.8,300.5 632.3,301.3 622.8,302 613.3,302.7 612,300.2 606.4,298.2 604.9,295 604.1,290.3 605.7,287.7 603.3,285.8 602.9,282.7 601.9,280.4 602.1,277.1 598.9,272.7 596.4,272.1 591.9,268.9 591,266.2 586.2,264.2 584.5,262 581.4,261.9 577.3,258.3 577.9,250.7 577.4,247.2 578.9,243.9 576.9,241.4 575.2,241.2 575.2,238.3 578.4,233.7 582.4,231.7 583.2,230.4 582.5,218.2 585.3,216.3 586.5,217.1 589.7,217.1 599.5,212.9 603.1,210.7 604.4,212.1 602.7,214.9 607.7,218Z" fill="#95bfe0"/>
<path d="M335.3,245.3 344.6,246.4 354,247.4 363.4,248.4 372.8,249.3 382.1,250.2 391.3,251 400.5,251.7 409.7,252.4 408.8,266.2 407.9,280 407,293.9 406.1,307.8 405.2,321.7 404.2,335.6 395.4,335 386.6,334.4 377.8,333.7 369.2,332.9 360.6,332.1 352,331.2 343.4,330.2 334.5,329.3 325.7,328.3 315.3,327 304.8,325.6 294.4,324.1 295.9,313.8 297.4,303.4 299.2,290.6 301.1,277.8 302.9,265 304.7,252.3 306.2,241.4 315.9,242.8 325.6,244.1Z" fill="#1f66a9"/>
<path d="M609.8,218.2 615.6,215 621.1,211.6 626.7,209.8 630,206.4 634.6,201.7 639.9,197 645.5,196 643.7,199.1 639.8,202.7 638.1,207 637.5,211.2 641,207.7 646.1,207.8 650.9,211 653.8,214.8 659.2,214 664.6,215.4 671.1,209.6 675.4,208.6 683.1,206.3 687.8,205.2 687.4,210.9 693.2,210.5 697.5,209.4 701.4,212.6 702.5,216 705.2,218.1 699.1,220.1 694.1,223.4 690.3,220.6 682.1,220.4 676.7,223.9 671.7,225 668.6,229.8 667.1,232.5 664.6,228 661,228.4 660.1,230.8 656.8,236.9 654.1,244.6 651.6,242.7 652.7,239.6 649.1,239.5 650.2,236.6 649.9,232.9 646.6,230.8 644.7,228.4 638.2,227 636.4,227.9 629.8,225.4 622.2,224 614.5,222.6 612.6,219.2ZM673.9,312.3 676.7,306.9 679.8,300.2 680.7,291.7 678.9,284.5 675.4,277.6 673.4,270.5 673.7,264.2 675.6,257.6 675.3,250.7 677.1,245.9 681.1,243.7 683.2,239.2 684.6,243.8 684.1,247.7 686.4,245.7 686.3,237.9 690.3,234.4 692.3,232.9 689.3,229.5 691.1,226.1 694.2,225 698.7,227.1 704.2,229.4 712,231.4 715.4,234 715.5,237.1 718.4,240.9 718.9,248.2 717.8,253.2 713.5,260 712.1,265.7 717.7,266.9 720.4,260.2 725.9,256.1 731.1,259.9 734.6,268.8 737.5,276.8 737.6,284.2 732.8,288.2 729.7,293.3 729.3,298.9 726.1,305.5 715.7,307.5 705.3,309.5 705.1,308.1 696,309.4 686.8,310.7 680.3,311.5ZM706.1,217.4 710.2,215.4 712.6,218 707.5,219.9Z" fill="#437dbb"/>
<path d="M342.6,639.2 344,637.8 347,637.6 347.8,639.2 346.6,641.4 344,641.6ZM365,645.4 367.4,643 369,645.2 371.4,647.4 369.2,648.2 366.2,647.4ZM378.6,648.8 384.8,648.3 385.4,649.3 379.4,649.8ZM382.6,652.4 384.1,652.2 384.8,653.4 383.6,654.1 382.6,653.6ZM387.2,651 390.2,651.4 392,651 395.6,651.8 396.8,653.4 394.4,654.8 392,654.6 390.8,653 388.4,652.6ZM400.2,660.2 404,661.4 410,663.8 416,668.6 412.4,672.8 407.6,675.2 405,678.6 402.8,676.4 401.6,671.6 399.2,668 401.6,664.4Z" fill="#9cc5e2"/>
</g>
<g font-family="Liberation Sans, sans-serif" font-size="17.5" text-anchor="middle">
<text x="182" y="171" fill="#1f66a9">WA</text>
<text x="156" y="238.5" fill="#fff">OR</text>
<text x="246" y="251" fill="#fff">ID</text>
<text x="339" y="211" fill="#fff">MT</text>
<text x="352" y="293" fill="#fff">WY</text>
<text x="466" y="209" fill="#1f66a9">ND</text>
<text x="464" y="274" fill="#fff">SD</text>
<text x="474" y="335" fill="#1f66a9">NE</text>
<text x="552" y="221" fill="#1f66a9">MN</text>
<text x="570" y="320" fill="#fff">IA</text>
<text x="622" y="263" fill="#fff">WI</text>
<text x="703" y="288" fill="#fff">MI</text>
<text x="638" y="355" fill="#fff">IL</text>
<text x="686" y="348" fill="#1f66a9">IN</text>
<text x="741" y="336" fill="#fff">OH</text>
<text x="815" y="312" fill="#fff">PA</text>
<text x="843" y="259" fill="#1f66a9">NY</text>
<text x="917" y="186" fill="#fff">ME</text>
<text x="199.5" y="351.5" fill="#1f66a9">NV</text>
<text x="281" y="365" fill="#1f66a9">UT</text>
<text x="374" y="382" fill="#fff">CO</text>
<text x="495" y="400" fill="#fff">KS</text>
<text x="592" y="401" fill="#fff">MO</text>
<text x="714" y="403" fill="#fff">KY</text>
<text x="778.5" y="371" fill="#fff">WV</text>
<text x="826.5" y="378" fill="#fff">VA</text>
<text x="138" y="400" fill="#fff">CA</text>
<text x="267" y="471" fill="#fff">AZ</text>
<text x="358" y="481" fill="#fff">NM</text>
<text x="512" y="459" fill="#fff">OK</text>
<text x="593" y="471" fill="#fff">AR</text>
<text x="700" y="439" fill="#fff">TN</text>
<text x="823" y="425" fill="#fff">NC</text>
<text x="797" y="466" fill="#fff">SC</text>
<text x="648" y="508" fill="#fff">MS</text>
<text x="697" y="502" fill="#fff">AL</text>
<text x="760" y="497" fill="#fff">GA</text>
<text x="479" y="541" fill="#fff">TX</text>
<text x="593" y="538" fill="#fff">LA</text>
<text x="806.5" y="586" fill="#fff">FL</text>
<text x="209" y="623" fill="#1f66a9">AK</text>
<text x="381" y="685" fill="#1f66a9">HI</text>
</g>
<g font-family="Liberation Sans, sans-serif" font-size="17.5" text-anchor="middle">
<rect x="906" y="309.0" width="51.5" height="23" fill="#131a49"/><text x="931.7" y="326.8" fill="#fff">VT</text>
<rect x="906" y="345.9" width="51.5" height="23" fill="url(#hatch)"/><text x="931.7" y="363.7" fill="#1f66a9">NH</text>
<rect x="906" y="382.7" width="51.5" height="23" fill="#1f5291"/><text x="931.7" y="400.5" fill="#fff">MA</text>
<rect x="906" y="419.6" width="51.5" height="23" fill="#a2c9e5"/><text x="931.7" y="437.4" fill="#fff">RI</text>
<rect x="906" y="456.4" width="51.5" height="23" fill="#e1e9f5"/><text x="931.7" y="474.2" fill="#1f66a9">CT</text>
<rect x="906" y="493.2" width="51.5" height="23" fill="#bcd7e9"/><text x="931.7" y="511.1" fill="#1f66a9">NJ</text>
<rect x="906" y="530.1" width="51.5" height="23" fill="#a4cae5"/><text x="931.7" y="547.9" fill="#fff">DE</text>
<rect x="906" y="567.0" width="51.5" height="23" fill="#a8cce6"/><text x="931.7" y="584.8" fill="#fff">MD</text>
</g>
<path d="M251.3,296.1L233.0,399.0" stroke="#d9e5f4" stroke-width="1.4" fill="none"/>
<g fill="#2a4a3a"><rect x="117.5" y="438.6" width="1.6" height="1.2"/><rect x="123.5" y="439.2" width="2" height="1.2"/><rect x="144" y="457.6" width="1.3" height="1.5"/></g>
<g stroke="#8a8c8e" stroke-width="1.1"><path d="M743.5,670 l9.5,-7 M743.5,675 l16,-11.5 M749,676 l11.5,-8"/></g>
<text x="768" y="676" font-family="Liberation Sans, sans-serif" font-size="16.5" fill="#58595b">Did not respond to survey</text>
<rect x="4" y="765" width="653.5" height="15.5" fill="url(#grad)"/>
<rect x="219.2" y="757" width="1.3" height="32" fill="#58595b"/>
<g font-family="Liberation Sans, sans-serif" font-size="15.8" fill="#58595b"><text x="160" y="747">42-state average</text><text x="4" y="811">4.0%</text><text x="203" y="811">7.1%</text><text x="657" y="811" text-anchor="end">12.4%</text></g>
</svg>
<h1>The Share of Older Inmates in State Prison Populations Varied<br><span style="letter-spacing:0.23px">Throughout the Country</span></h1>
<h2>Percentage of inmates age 55 and older by state, 2007–11 average</h2>
<div class="big"><span style="left:1854.8px">7</span><span style="left:1926.2px;clip-path:polygon(14.3px 96px,32px 96px,32px 126px,14.3px 126px)">.</span><span style="left:1951.2px;clip-path:polygon(0 0,200px 0,200px 90px,55.5px 90px,55.5px 126px,34px 126px,34px 90px,0 90px)">1</span></div><div class="pct">%</div>
<div class="avg">42-state<br>average</div>
<div class="note">Note: Data for Idaho were not available for fiscal 2007; the average is from 2008–11. Data were not available for any years in 8 states: Alaska,<br>Nebraska, New Hampshire, Nevada, New York, North Dakota, Utah, and Washington. See Appendix C, Table C.4 for the data.</div>
<div class="src">Source: Association of State Correctional Administrators</div>
<div class="cp">© 2014 The Pew Charitable Trusts</div>
</body></html>
